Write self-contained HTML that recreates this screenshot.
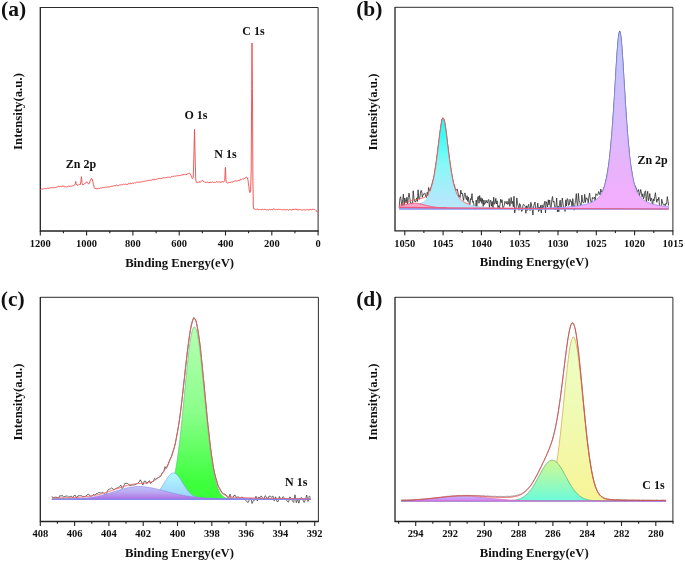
<!DOCTYPE html><html><head><meta charset="utf-8"><title>XPS spectra</title><style>html,body{margin:0;padding:0;background:#fff}svg{display:block}</style></head><body><svg width="685" height="562" viewBox="0 0 685 562" font-family="'Liberation Serif','Times New Roman',serif" font-weight="bold" fill="#111"><defs><linearGradient id="gb1" gradientUnits="userSpaceOnUse" x1="0" y1="119" x2="0" y2="209"><stop offset="0" stop-color="#1cfff4"/><stop offset="0.1" stop-color="#28fff5"/><stop offset="0.5" stop-color="#87f8f6"/><stop offset="0.9" stop-color="#b4e8fc"/><stop offset="1" stop-color="#b8e6fc"/></linearGradient><linearGradient id="gb2" gradientUnits="userSpaceOnUse" x1="0" y1="31" x2="0" y2="209"><stop offset="0" stop-color="#b6c2fb"/><stop offset="0.1" stop-color="#c1c6fc"/><stop offset="0.5" stop-color="#d8bcfc"/><stop offset="0.9" stop-color="#f0affc"/><stop offset="1" stop-color="#f2aefc"/></linearGradient><linearGradient id="gc1" gradientUnits="userSpaceOnUse" x1="0" y1="327" x2="0" y2="499"><stop offset="0" stop-color="#b6ffb2"/><stop offset="0.5" stop-color="#8afe8a"/><stop offset="0.9" stop-color="#3eff3e"/><stop offset="1" stop-color="#38ff38"/></linearGradient><linearGradient id="gc2" gradientUnits="userSpaceOnUse" x1="0" y1="473" x2="0" y2="499"><stop offset="0" stop-color="#b0fbfc"/><stop offset="1" stop-color="#9ccffc"/></linearGradient><linearGradient id="gc3" gradientUnits="userSpaceOnUse" x1="0" y1="486.6" x2="0" y2="499"><stop offset="0" stop-color="#bec5fa"/><stop offset="0.5" stop-color="#b9a4f0"/><stop offset="1" stop-color="#b072e2"/></linearGradient><linearGradient id="gd1" gradientUnits="userSpaceOnUse" x1="0" y1="337" x2="0" y2="501"><stop offset="0" stop-color="#eaffc6"/><stop offset="0.5" stop-color="#f0fab2"/><stop offset="1" stop-color="#f8f496"/><stop offset="1" stop-color="#f8f494"/></linearGradient><linearGradient id="gd2" gradientUnits="userSpaceOnUse" x1="0" y1="460" x2="0" y2="501"><stop offset="0" stop-color="#d0f892"/><stop offset="0.5" stop-color="#a0fab4"/><stop offset="1" stop-color="#6afada"/></linearGradient><linearGradient id="gd3" gradientUnits="userSpaceOnUse" x1="0" y1="496.3" x2="0" y2="501"><stop offset="0" stop-color="#beb9fc"/><stop offset="1" stop-color="#d87cf5"/></linearGradient></defs><rect width="685" height="562" fill="#fff"/><path d="M40.3,7.5H318.1V231" fill="none" stroke="#2c2c2c" stroke-width="1"/>
<path d="M40.3,7.1V231H318.5" fill="none" stroke="#222" stroke-width="1.3"/>
<path d="M40.3,231v4.4M86.6,231v4.4M132.9,231v4.4M179.2,231v4.4M225.5,231v4.4M271.8,231v4.4M318.1,231v4.4M63.4,231v2.2M109.8,231v2.2M156.1,231v2.2M202.4,231v2.2M248.6,231v2.2M294.9,231v2.2" fill="none" stroke="#222" stroke-width="1.1"/>
<text x="40.3" y="246.8" font-size="10.5" text-anchor="middle" >1200</text>
<text x="86.6" y="246.8" font-size="10.5" text-anchor="middle" >1000</text>
<text x="132.9" y="246.8" font-size="10.5" text-anchor="middle" >800</text>
<text x="179.2" y="246.8" font-size="10.5" text-anchor="middle" >600</text>
<text x="225.5" y="246.8" font-size="10.5" text-anchor="middle" >400</text>
<text x="271.8" y="246.8" font-size="10.5" text-anchor="middle" >200</text>
<text x="318.1" y="246.8" font-size="10.5" text-anchor="middle" >0</text>
<text x="13.6" y="15.5" font-size="21.5" text-anchor="middle" >(a)</text>
<text transform="translate(22,111.5) rotate(-90)" font-size="12.8" text-anchor="middle">Intensity(a.u.)</text>
<text x="179.6" y="266.7" font-size="12.7" text-anchor="middle" >Binding Energy(eV)</text>
<text x="81" y="167.6" font-size="12" text-anchor="middle" >Zn 2p</text>
<text x="196" y="118.7" font-size="12" text-anchor="middle" >O 1s</text>
<text x="225.5" y="157.5" font-size="12" text-anchor="middle" >N 1s</text>
<text x="253.4" y="35.3" font-size="12" text-anchor="middle" >C 1s</text>
<path d="M40.3,189.7L41,189L41.7,189L42.4,189.1L43.1,188.6L43.8,188.8L44.5,188.7L45.2,188.1L45.9,188.8L46.6,188.6L47.3,188.2L48,188.2L48.7,188.3L49.4,188L50,187.9L50.1,187.6L50.8,188L51.5,187.8L52.2,187.8L52.9,187.2L53.6,188L54.3,187.4L55,187.2L55.7,187.8L56.4,187.1L57.1,186.6L57.8,186.8L58.5,186.2L59.2,187L59.9,186.5L60.6,186.3L61.3,186.7L62,185.9L62.3,186.4L62.7,185.8L63.4,186.3L64.1,186.2L64.5,187L64.8,187.1L65.5,186.7L66.2,187.1L66.7,186.9L66.9,187.1L67.6,186.6L68.3,186.1L69,185.9L69.7,186.4L70,186.8L70.4,186.2L71.1,185.8L71.8,186.4L72.5,185.8L73.2,185.6L73.9,185.5L74.2,185.4L74.6,185L75.1,184.2L75.3,183.7L75.7,181.4L76,183.3L76.4,184.9L76.7,184.5L77.4,185L78.1,185.5L78.5,184.9L78.8,184.7L79.5,184.5L80.2,184.3L80.4,184.5L80.9,181.3L81,181.4L81.4,176.7L81.6,178.6L82,182.4L82.3,183.7L82.7,184.9L83,184.9L83.7,184.5L84.4,183.8L84.5,183.3L85.1,183.5L85.8,182.9L86.2,182.4L86.5,181.9L87.1,181.8L87.2,181.9L87.9,182.9L88.3,183.9L88.6,183.8L89.3,183.4L89.4,183.4L90,181.5L90.4,180L90.7,179.5L91.4,178.4L91.5,178.4L92.1,179.8L92.4,179.7L92.8,181.4L93.3,183.9L93.5,184.5L94.2,187.6L94.2,187.6L94.9,188L95.1,188.7L95.6,188.4L96.3,188.9L97,188.5L97,189L97.7,188.3L98.4,188.3L99.1,188.4L99.8,188.5L100,188.4L100.5,187.8L101.2,188.1L101.9,187.9L102.6,187.7L103.3,187.5L104,188L104.7,187.3L105.4,187.1L106.1,187.4L106.8,187.1L107.5,187L108.2,187.1L108.9,186.9L109.6,186.8L110,186.9L110.3,186.6L111,186.3L111.7,186.3L112.4,186.1L113.1,186.2L113.8,185.8L114.5,185.5L115.2,185.9L115.9,185.4L116.6,185.1L117.3,185.7L118,185.3L118.7,185.5L119.4,185.1L120,184.9L120.1,184.8L120.8,184.9L121.5,184.9L122.2,184.6L122.9,184.7L123.6,184.2L124.3,184.5L125,183.9L125.7,184.2L126.4,184.4L127.1,184.4L127.8,184.4L128.5,183.4L129.2,183.9L129.9,184L130,183.9L130.6,183.2L131.3,183.5L132,183.8L132.7,182.7L133.4,183.2L134.1,183.3L134.8,182.6L135.5,182.9L136.2,182.3L136.9,182.3L137.6,182.2L138.3,182.3L139,182.1L139.7,182.3L140,181.7L140.4,181.9L141.1,182.1L141.8,181.9L142.5,181.2L143.2,181.6L143.9,181.2L144.6,181.3L145.3,181.2L146,181.3L146.7,180.9L147.4,180.2L148.1,180.2L148.8,180.7L149.5,180.3L150,180.6L150.2,180.3L150.9,179.9L151.6,180.3L152.3,179.7L153,179.2L153.7,180.2L154.4,179L155.1,179.6L155.8,179.6L156.5,179.2L157.2,178.6L157.9,179.2L158.6,178.4L159.3,178.3L160,178.5L160,178.8L160.7,178.6L161.4,178.6L162.1,178.1L162.8,178.1L163.5,177.7L164.2,177.8L164.9,178L165.6,177.6L166.3,177.7L167,177.3L167.7,177.2L168.4,177.3L169.1,177.1L169.8,177.2L170,177L170.5,177.4L171.2,176.7L171.9,176.6L172.6,176.3L173.3,176.4L174,176.5L174.7,176L175.4,176.1L176.1,176.2L176.8,175.8L177.5,175.6L178.2,175.9L178.9,175.5L179.6,175.5L180,175.6L180.3,175.6L181,175L181.7,174.9L182.4,175L183.1,174.7L183.4,174.2L183.8,175L184.5,174.6L185.2,174.7L185.9,174.1L186.5,174.8L186.6,174.2L187.3,174L188,173.4L188.5,173.6L188.7,173.4L189.4,173.1L189.6,173.1L190.1,173.8L190.6,174.8L190.8,174.9L191.5,176.7L191.5,177L192.2,178.3L192.4,178.7L192.9,177.8L193.2,177.5L193.6,165.8L193.8,160L194.3,138.1L194.5,129.4L195,151.3L195.2,160L195.7,177.1L195.8,180.5L196.4,182.3L196.4,182.3L197.1,182.1L197.8,182.5L198,182.6L198.5,182.1L199.2,182.1L199.9,181.5L200,182.4L200.6,181.7L201.3,181.1L201.5,181.1L202,180.9L202.6,180.4L202.7,180.3L203.4,181.6L203.6,181.5L204.1,181.5L204.8,182.3L205.5,182.3L206,182.3L206.2,182.7L206.9,182.1L207.6,182.2L208.3,182.6L209,182.9L209.7,182.4L210,182.9L210.4,182.2L211.1,182.4L211.8,182.3L212.5,181.9L213.2,182.3L213.9,182.5L214.6,182.2L215,182.2L215.3,182.6L216,181.8L216.7,181.7L217.4,181.9L218.1,181.7L218.8,182.3L219.5,182L220,181.7L220.2,181.7L220.9,182.7L221.6,181.6L222.3,181.6L223,181.8L223.7,181.9L224,181.8L224.4,181L224.7,180.5L225.1,173L225.4,167.3L225.8,175.4L226.1,181.5L226.5,182.3L226.9,182.9L227.2,182.9L227.9,183L228.6,182.6L229,182.4L229.3,182.8L230,182.1L230.7,182.5L231.4,181.8L232,182L232.1,181.9L232.8,182.3L233.5,181.3L234.2,181.1L234.9,181.1L235.6,180.8L236,180.8L236.3,181L237,181L237.7,181L238.4,180.2L239.1,181L239.8,180.6L240,179.9L240.5,179.2L241.2,179.7L241.9,179.5L242.6,178.7L243,179.2L243.3,179L244,178.5L244.7,178.6L244.8,178.7L245.4,177.8L246,177.5L246.1,177.2L246.8,177L246.8,177.2L247.5,178.5L247.6,178.3L248.2,181.3L248.4,183.2L248.9,186.6L249.2,189.5L249.6,191.8L249.9,192.6L250.3,191.7L250.6,191L251,177L251.2,170L251.6,100L251.7,85.7L252,43L252.4,88.6L252.5,100L252.9,180L253.1,193L253.3,206L253.8,209L253.8,209L254.5,209.1L255.2,209.4L255.5,209.6L255.9,209.2L256.6,209.3L257.3,209L258,209.7L258.7,209.5L259.4,209.6L260,209.9L260.1,209.8L260.8,209.5L261.5,209.7L262.2,209.1L262.9,209.7L263.6,209.6L264.3,209.1L265,209.9L265.7,209.4L266.4,209.8L267.1,209.5L267.8,209.9L268.5,210L269.2,209.4L269.9,209.2L270,209.6L270.6,209.8L271.3,209.5L272,209.4L272.7,209.7L273.4,208.8L274.1,209.4L274.8,209.2L275.5,209.7L276.2,209.4L276.9,209.3L277.6,209.5L278.3,209.2L279,209.6L279.7,209.4L280,209.5L280.4,209.4L281.1,209.9L281.8,209.6L282.5,209.8L283.2,209.8L283.9,209.4L284.6,209.8L285.3,209.8L286,209.7L286.7,209.6L287.4,209.6L288.1,209.9L288.8,210.3L289.5,209.5L290,209.8L290.2,209.6L290.9,209.9L291.6,209.8L292.3,210L293,208.9L293.7,209.5L294.4,209.4L295,209.7L295.1,209.4L295.8,209L296.2,209.1L296.5,209.7L297.2,208.9L297.3,209.7L297.9,209.9L298.6,209.8L299.3,209.7L300,209.5L300.7,209.6L301.4,210.1L302.1,210.2L302.8,209.9L303.5,209.6L304.2,209.9L304.9,209.8L305,210.1L305.6,209.9L306.3,209.7L307,209.9L307.7,209.5L308.4,210L309,210.1L309.1,209.5L309.8,209.8L310.5,209.3L311.2,209.7L311.9,209.6L312.5,209.1L312.6,209.5L313.3,209.3L314,209.4L314.7,209.5L315.2,209.8L315.4,209.9L316.1,210.6L316.6,210.8L316.8,211.4L317.5,212.1L318,212.2" fill="none" stroke="#f24545" stroke-width="0.9" stroke-linejoin="round"/>
<path d="M395,7.3H672.9V230.8" fill="none" stroke="#2c2c2c" stroke-width="1"/>
<path d="M395,6.9V230.8H673.3" fill="none" stroke="#222" stroke-width="1.3"/>
<path d="M404.8,230.8v4.4M443.1,230.8v4.4M481.4,230.8v4.4M519.7,230.8v4.4M558,230.8v4.4M596.3,230.8v4.4M634.6,230.8v4.4M672.9,230.8v4.4M423.9,230.8v2.2M462.2,230.8v2.2M500.5,230.8v2.2M538.9,230.8v2.2M577.1,230.8v2.2M615.4,230.8v2.2M653.8,230.8v2.2" fill="none" stroke="#222" stroke-width="1.1"/>
<text x="404.8" y="246.8" font-size="10.5" text-anchor="middle" >1050</text>
<text x="443.1" y="246.8" font-size="10.5" text-anchor="middle" >1045</text>
<text x="481.4" y="246.8" font-size="10.5" text-anchor="middle" >1040</text>
<text x="519.7" y="246.8" font-size="10.5" text-anchor="middle" >1035</text>
<text x="558" y="246.8" font-size="10.5" text-anchor="middle" >1030</text>
<text x="596.3" y="246.8" font-size="10.5" text-anchor="middle" >1025</text>
<text x="634.6" y="246.8" font-size="10.5" text-anchor="middle" >1020</text>
<text x="672.9" y="246.8" font-size="10.5" text-anchor="middle" >1015</text>
<text x="369.3" y="15.7" font-size="21.5" text-anchor="middle" >(b)</text>
<text transform="translate(377.2,112) rotate(-90)" font-size="12.8" text-anchor="middle">Intensity(a.u.)</text>
<text x="534.2" y="266.4" font-size="12.7" text-anchor="middle" >Binding Energy(eV)</text>
<text x="652.6" y="164.4" font-size="12" text-anchor="middle" >Zn 2p</text>
<path d="M399.2,207.7L399.9,198.6L400.6,196.7L401.3,201.8L402,206.2L402.7,199.6L403.4,194.2L404.1,207.9L404.8,198L405.5,201L406.2,203L406.9,197.2L407.6,204.3L408.3,197.5L409,193.1L409.7,197.5L410.4,201.6L411.1,205L411.8,202.8L412.5,204.9L413.2,190.8L413.9,198.1L414.6,201.1L415.3,202L416,200.9L416.7,197.9L417.4,201.5L418.1,189.8L418.8,199.1L419.5,199.1L420.2,194.8L420.9,190.4L421.6,190.8L422.3,197.3L423,194.4L423.7,194.6L424.4,192.9L425.1,193.6L425.8,197.1L426.5,197.5L427.2,192.3L427.9,195.5L428.6,187.5L429.3,190L430,191L430.7,187.9L431.4,186.4L432.1,183.9L432.8,180.9L433.5,178.8L434.2,175.5L434.9,170.6L435.6,166.4L436.3,161.5L437,156.2L437.7,151L438.4,144.8L439.1,139.7L439.8,133.6L440.5,128.6L441.2,124.2L441.9,120L442.6,118L443.3,118.7L444,119.7L444.7,122.1L445.4,125.9L446.1,131.8L446.8,137.3L447.5,143.7L448.2,148.1L448.9,154.5L449.6,159.7L450.3,164.8L451,169.3L451.7,173.6L452.4,177.8L453.1,180.8L453.8,184.1L454.5,184.9L455.2,189.1L455.9,190.6L456.6,189.5L457.3,189L458,192.9L458.7,196.4L459.4,195.5L460.1,197.5L460.8,190.1L461.5,194L462.2,193.1L462.9,196.9L463.6,200.4L464.3,194.4L465,192.9L465.7,197.2L466.4,199.7L467.1,195.7L467.8,201.5L468.5,197.3L469.2,203.3L469.9,204.5L470.6,198.6L471.3,199.7L472,193.6L472.7,202.4L473.4,201.3L474.1,206.1L474.8,209.2L475.5,208.9L476.2,200L476.9,206.7L477.6,197.4L478.3,196.3L479,203.3L479.7,195.5L480.4,201.4L481.1,197.8L481.8,203.4L482.5,198.6L483.2,206.4L483.9,200L484.6,204.5L485.3,203.2L486,200.2L486.7,202.1L487.4,203.1L488.1,199.9L488.8,199.6L489.5,208.7L490.2,200.7L490.9,200.3L491.6,206.2L492.3,201.5L493,208.6L493.7,197.2L494.4,204.2L495.1,203.5L495.8,198.3L496.5,203.9L497.2,200.8L497.9,207.7L498.6,205.7L499.3,209.2L500,204.3L500.7,199.2L501.4,202.6L502.1,199.8L502.8,207.8L503.5,207.3L504.2,205.6L504.9,201.3L505.6,202.2L506.3,203.8L507,201.2L507.7,204.5L508.4,204L509.1,198.5L509.8,206.4L510.5,203.3L511.2,197.4L511.9,203.7L512.6,201.3L513.3,206.8L514,196.2L514.7,212.9L515.4,209.2L516.1,209L516.8,197.9L517.5,203.3L518.2,206L518.9,210.3L519.6,203.5L520.3,204.7L521,208.1L521.7,211.5L522.4,210L523.1,204.6L523.8,204.3L524.5,205.4L525.2,206.4L525.9,213.3L526.6,205.8L527.3,210.4L528,206L528.7,204.3L529.4,209.1L530.1,210.6L530.8,202.3L531.5,205L532.2,209.2L532.9,215L533.6,206.8L534.3,204L535,202L535.7,209.5L536.4,209.3L537.1,208.5L537.8,203.1L538.5,211.5L539.2,207L539.9,210.4L540.6,205.4L541.3,212.9L542,204.8L542.7,208.4L543.4,207.2L544.1,204L544.8,201.3L545.5,213L546.2,201.7L546.9,203.5L547.6,206.9L548.3,199.8L549,204.7L549.7,200L550.4,207.7L551.1,208.7L551.8,199.9L552.5,196.5L553.2,202.2L553.9,201L554.6,206.5L555.3,209.9L556,205.3L556.7,198L557.4,211.8L558.1,206.1L558.8,211.8L559.5,203.4L560.2,200.1L560.9,208.7L561.6,205.2L562.3,198L563,203.7L563.7,208.3L564.4,208.6L565.1,211.4L565.8,199.8L566.5,206L567.2,198.5L567.9,199.2L568.6,205.4L569.3,204.8L570,199.3L570.7,201.8L571.4,201.3L572.1,209L572.8,198.6L573.5,205.7L574.2,210.2L574.9,204.4L575.6,200.2L576.3,193.6L577,203.2L577.7,206.9L578.4,193.4L579.1,200.7L579.8,202.3L580.5,205.4L581.2,205L581.9,195.1L582.6,201.9L583.3,202.8L584,202.5L584.7,194.3L585.4,202.5L586.1,197.6L586.8,198.9L587.5,198.8L588.2,202.8L588.9,196.8L589.6,193.1L590.3,199L591,202L591.7,203L592.4,197.4L593.1,198.7L593.8,197.8L594.5,197L595.2,201.6L595.9,193.7L596.6,195L597.3,195.5L598,194.1L598.7,191.5L599.4,193.3L600.1,195L600.8,189.1L601.5,192L602.2,191.4L602.9,191.3L603.6,187.4L604.3,186.7L605,184.2L605.7,181.1L606.4,178.1L607.1,174.1L607.8,170.3L608.5,165.9L609.2,160.5L609.9,154.5L610.6,147.2L611.3,139.8L612,131.5L612.7,121.7L613.4,111.9L614.1,101.3L614.8,90.4L615.5,77.9L616.2,66.3L616.9,55.3L617.6,45.7L618.3,38.2L619,32.9L619.7,31L620.4,32.9L621.1,37.9L621.8,45.8L622.5,55.2L623.2,66.3L623.9,78.4L624.6,89.4L625.3,100.8L626,111.6L626.7,122.1L627.4,131.4L628.1,140.3L628.8,147.1L629.5,155.2L630.2,160.6L630.9,165.9L631.6,170.1L632.3,174.6L633,178.6L633.7,181.9L634.4,184.3L635.1,185.8L635.8,187.3L636.5,189.1L637.2,191.3L637.9,191.5L638.6,189.5L639.3,195.7L640,193.4L640.7,189.5L641.4,193.1L642.1,196.8L642.8,193.7L643.5,198.8L644.2,196.7L644.9,191.8L645.6,190.8L646.3,203.8L647,195.6L647.7,191.3L648.4,200.7L649.1,197.9L649.8,193.5L650.5,201.2L651.2,197.9L651.9,200L652.6,207.3L653.3,198.8L654,201L654.7,196.8L655.4,192.7L656.1,198.1L656.8,202.3L657.5,199.2L658.2,200.3L658.9,197.2L659.6,207.1L660.3,206.1L661,209.7L661.7,199.2L662.4,201.8L663.1,204.4L663.8,204.8L664.5,204.3L665.2,205.8L665.9,203.4L666.6,204.2L667.3,196.6L668,201L668.6,205.7" fill="none" stroke="#2a2a2a" stroke-width="0.8" stroke-linejoin="miter" stroke-miterlimit="10"/>
<path d="M399.2,207.4L399.9,207.4L400.6,207.3L401.3,207.3L402,207.2L402.7,207.2L403.4,207.1L404.1,207L404.8,207L405.5,206.9L406.2,206.8L406.9,206.8L407.6,206.7L408.3,206.6L409,206.5L409.7,206.4L410.4,206.3L411.1,206.2L411.8,206.1L412.5,205.9L413.2,205.8L413.9,205.7L414.6,205.5L415.3,205.3L416,205.2L416.7,205L417.4,204.8L418.1,204.6L418.8,204.3L419.5,204L420.2,203.8L420.9,203.4L421.6,203.1L422.3,202.7L423,202.3L423.7,201.8L424.4,201.3L425.1,200.6L425.8,199.9L426.5,199.1L427.2,198.2L427.9,197.1L428.6,195.9L429.3,194.4L430,192.8L430.7,190.8L431.4,188.7L432.1,186.1L432.8,183.3L433.5,180.1L434.2,176.5L434.9,172.4L435.6,168L436.3,163.2L437,157.9L437.7,152.4L438.4,146.6L439.1,140.7L439.8,134.9L440.5,129.5L441.2,124.9L441.9,121.4L442.6,119.3L443.3,119L444,120.3L444.7,123.2L445.4,127.4L446.1,132.5L446.8,138.2L447.5,144L448.2,149.9L448.9,155.6L449.6,161L450.3,166L451,170.6L451.7,174.8L452.4,178.6L453.1,182L453.8,185L454.5,187.6L455.2,189.9L455.9,192L456.6,193.7L457.3,195.3L458,196.6L458.7,197.7L459.4,198.7L460.1,199.6L460.8,200.4L461.5,201L462.2,201.6L462.9,202.1L463.6,202.5L464.3,202.9L465,203.3L465.7,203.6L466.4,203.9L467.1,204.2L467.8,204.4L468.5,204.7L469.2,204.9L469.9,205.1L470.6,205.3L471.3,205.4L472,205.6L472.7,205.7L473.4,205.9L474.1,206L474.8,206.1L475.5,206.2L476.2,206.3L476.9,206.5L477.6,206.5L478.3,206.6L479,206.7L479.7,206.8L480.4,206.9L481.1,206.9L481.8,207L482.5,207.1L483.2,207.1L483.9,207.2L484.6,207.3L485.3,207.3L486,207.4L486.7,207.4L487.4,207.5L488.1,207.5L488.8,207.5L489.5,207.6L490.2,207.6L490.9,207.7L491.6,207.7L492.3,207.7L493,207.8L493.7,207.8L494.4,207.8L495.1,207.8L495.8,207.9L496.5,207.9L497.2,207.9L497.9,207.9L498.6,208L499.3,208L500,208L500.7,208L501.4,208.1L502.1,208.1L502.8,208.1L503.5,208.1L504.2,208.1L504.9,208.1L505.6,208.2L506.3,208.2L507,208.2L507.7,208.2L508.4,208.2L509.1,208.2L509.8,208.3L510.5,208.3L511.2,208.3L511.9,208.3L512.6,208.3L513.3,208.3L514,208.3L514.7,208.3L515.4,208.3L516.1,208.4L516.8,208.4L517.5,208.4L518.2,208.4L518.9,208.4L519.6,208.4L520.3,208.4L521,208.4L521.7,208.4L522.4,208.4L523.1,208.4L523.8,208.5L524.5,208.5L525.2,208.5L525.9,208.5L526.6,208.5L527.3,208.5L528,208.5L528.7,208.5L529.4,208.5L530.1,208.5L530.8,208.5L531.5,208.5L532.2,208.5L532.9,208.5L533.6,208.5L534.3,208.6L535,208.6L535.7,208.6L536.4,208.6L537.1,208.6L537.8,208.6L538.5,208.6L539.2,208.6L539.9,208.6L540.6,208.6L541.3,208.6L542,208.6L542.7,208.6L543.4,208.6L544.1,208.6L544.8,208.6L545.5,208.6L546.2,208.6L546.9,208.6L547.6,208.6L548.3,208.6L549,208.6L549.7,208.6L550.4,208.6L551.1,208.7L551.8,208.7L552.5,208.7L553.2,208.7L553.9,208.7L554.6,208.7L555.3,208.7L556,208.7L556.7,208.7L557.4,208.7L558.1,208.7L558.8,208.7L559.5,208.7L560.2,208.7L560.9,208.7L561.6,208.7L562.3,208.7L563,208.7L563.7,208.7L564.4,208.7L565.1,208.7L565.8,208.7L566.5,208.7L567.2,208.7L567.9,208.7L568.6,208.7L569.3,208.7L570,208.7L570.7,208.7L571.4,208.7L572.1,208.7L572.8,208.7L573.5,208.7L574.2,208.7L574.9,208.7L575.6,208.7L576.3,208.7L577,208.7L577.7,208.7L578.4,208.7L579.1,208.7L579.8,208.7L580.5,208.7L581.2,208.7L581.9,208.7L582.6,208.8L583.3,208.8L584,208.8L584.7,208.8L585.4,208.8L586.1,208.8L586.8,208.8L587.5,208.8L588.2,208.8L588.9,208.8L589.6,208.8L590.3,208.8L591,208.8L591.7,208.8L592.4,208.8L593.1,208.8L593.8,208.8L594.5,208.8L595.2,208.8L595.9,208.8L596.6,208.8L597.3,208.8L598,208.8L598.7,208.8L599.4,208.8L600.1,208.8L600.8,208.8L601.5,208.8L602.2,208.8L602.9,208.8L603.6,208.8L604.3,208.8L605,208.8L605.7,208.8L606.4,208.8L607.1,208.8L607.8,208.8L608.5,208.8L609.2,208.8L609.9,208.8L610.6,208.8L611.3,208.8L612,208.8L612.7,208.8L613.4,208.8L614.1,208.8L614.8,208.8L615.5,208.8L616.2,208.8L616.9,208.8L617.6,208.8L618.3,208.8L619,208.8L619.7,208.8L620.4,208.8L621.1,208.8L621.8,208.8L622.5,208.8L623.2,208.8L623.9,208.8L624.6,208.8L625.3,208.8L626,208.8L626.7,208.8L627.4,208.8L628.1,208.8L628.8,208.8L629.5,208.8L630.2,208.8L630.9,208.8L631.6,208.8L632.3,208.8L633,208.8L633.7,208.8L634.4,208.8L635.1,208.8L635.8,208.8L636.5,208.8L637.2,208.8L637.9,208.8L638.6,208.8L639.3,208.8L640,208.8L640.7,208.8L641.4,208.8L642.1,208.8L642.8,208.8L643.5,208.8L644.2,208.8L644.9,208.8L645.6,208.8L646.3,208.8L647,208.8L647.7,208.8L648.4,208.8L649.1,208.8L649.8,208.8L650.5,208.8L651.2,208.8L651.9,208.8L652.6,208.8L653.3,208.8L654,208.8L654.7,208.8L655.4,208.8L656.1,208.8L656.8,208.8L657.5,208.8L658.2,208.8L658.9,208.8L659.6,208.8L660.3,208.8L661,208.8L661.7,208.8L662.4,208.8L663.1,208.8L663.8,208.8L664.5,208.8L665.2,208.8L665.9,208.8L666.6,208.8L667.3,208.8L668,208.8L668.6,208.8L668.6,208.9L399.2,208.9Z" fill="url(#gb1)" stroke="#8fc4ee" stroke-width="0.5"/>
<path d="M399.2,208.8L399.9,208.8L400.6,208.8L401.3,208.8L402,208.8L402.7,208.8L403.4,208.8L404.1,208.8L404.8,208.8L405.5,208.8L406.2,208.8L406.9,208.8L407.6,208.8L408.3,208.8L409,208.8L409.7,208.8L410.4,208.8L411.1,208.8L411.8,208.8L412.5,208.8L413.2,208.8L413.9,208.8L414.6,208.8L415.3,208.8L416,208.8L416.7,208.8L417.4,208.8L418.1,208.8L418.8,208.8L419.5,208.8L420.2,208.8L420.9,208.8L421.6,208.8L422.3,208.8L423,208.8L423.7,208.8L424.4,208.8L425.1,208.8L425.8,208.8L426.5,208.8L427.2,208.8L427.9,208.7L428.6,208.7L429.3,208.7L430,208.7L430.7,208.7L431.4,208.7L432.1,208.7L432.8,208.7L433.5,208.7L434.2,208.7L434.9,208.7L435.6,208.7L436.3,208.7L437,208.7L437.7,208.7L438.4,208.7L439.1,208.7L439.8,208.7L440.5,208.7L441.2,208.7L441.9,208.7L442.6,208.7L443.3,208.7L444,208.7L444.7,208.7L445.4,208.7L446.1,208.7L446.8,208.7L447.5,208.7L448.2,208.7L448.9,208.7L449.6,208.7L450.3,208.7L451,208.7L451.7,208.7L452.4,208.7L453.1,208.7L453.8,208.7L454.5,208.7L455.2,208.7L455.9,208.7L456.6,208.7L457.3,208.7L458,208.7L458.7,208.7L459.4,208.7L460.1,208.7L460.8,208.7L461.5,208.7L462.2,208.7L462.9,208.7L463.6,208.7L464.3,208.7L465,208.7L465.7,208.7L466.4,208.7L467.1,208.7L467.8,208.7L468.5,208.7L469.2,208.7L469.9,208.7L470.6,208.7L471.3,208.6L472,208.6L472.7,208.6L473.4,208.6L474.1,208.6L474.8,208.6L475.5,208.6L476.2,208.6L476.9,208.6L477.6,208.6L478.3,208.6L479,208.6L479.7,208.6L480.4,208.6L481.1,208.6L481.8,208.6L482.5,208.6L483.2,208.6L483.9,208.6L484.6,208.6L485.3,208.6L486,208.6L486.7,208.6L487.4,208.6L488.1,208.6L488.8,208.6L489.5,208.6L490.2,208.6L490.9,208.6L491.6,208.6L492.3,208.6L493,208.6L493.7,208.6L494.4,208.5L495.1,208.5L495.8,208.5L496.5,208.5L497.2,208.5L497.9,208.5L498.6,208.5L499.3,208.5L500,208.5L500.7,208.5L501.4,208.5L502.1,208.5L502.8,208.5L503.5,208.5L504.2,208.5L504.9,208.5L505.6,208.5L506.3,208.5L507,208.5L507.7,208.5L508.4,208.5L509.1,208.4L509.8,208.4L510.5,208.4L511.2,208.4L511.9,208.4L512.6,208.4L513.3,208.4L514,208.4L514.7,208.4L515.4,208.4L516.1,208.4L516.8,208.4L517.5,208.4L518.2,208.4L518.9,208.4L519.6,208.3L520.3,208.3L521,208.3L521.7,208.3L522.4,208.3L523.1,208.3L523.8,208.3L524.5,208.3L525.2,208.3L525.9,208.3L526.6,208.3L527.3,208.3L528,208.2L528.7,208.2L529.4,208.2L530.1,208.2L530.8,208.2L531.5,208.2L532.2,208.2L532.9,208.2L533.6,208.2L534.3,208.1L535,208.1L535.7,208.1L536.4,208.1L537.1,208.1L537.8,208.1L538.5,208.1L539.2,208L539.9,208L540.6,208L541.3,208L542,208L542.7,208L543.4,208L544.1,207.9L544.8,207.9L545.5,207.9L546.2,207.9L546.9,207.9L547.6,207.8L548.3,207.8L549,207.8L549.7,207.8L550.4,207.8L551.1,207.7L551.8,207.7L552.5,207.7L553.2,207.7L553.9,207.6L554.6,207.6L555.3,207.6L556,207.5L556.7,207.5L557.4,207.5L558.1,207.5L558.8,207.4L559.5,207.4L560.2,207.3L560.9,207.3L561.6,207.3L562.3,207.2L563,207.2L563.7,207.2L564.4,207.1L565.1,207.1L565.8,207L566.5,207L567.2,206.9L567.9,206.9L568.6,206.8L569.3,206.7L570,206.7L570.7,206.6L571.4,206.6L572.1,206.5L572.8,206.4L573.5,206.3L574.2,206.3L574.9,206.2L575.6,206.1L576.3,206L577,205.9L577.7,205.8L578.4,205.7L579.1,205.6L579.8,205.5L580.5,205.4L581.2,205.3L581.9,205.1L582.6,205L583.3,204.8L584,204.7L584.7,204.5L585.4,204.3L586.1,204.2L586.8,204L587.5,203.8L588.2,203.5L588.9,203.3L589.6,203L590.3,202.8L591,202.5L591.7,202.2L592.4,201.8L593.1,201.5L593.8,201.1L594.5,200.7L595.2,200.2L595.9,199.8L596.6,199.2L597.3,198.6L598,198L598.7,197.3L599.4,196.5L600.1,195.6L600.8,194.5L601.5,193.4L602.2,192.1L602.9,190.6L603.6,188.8L604.3,186.8L605,184.5L605.7,181.8L606.4,178.7L607.1,175.1L607.8,171L608.5,166.3L609.2,160.9L609.9,154.8L610.6,148L611.3,140.3L612,131.9L612.7,122.6L613.4,112.5L614.1,101.7L614.8,90.3L615.5,78.6L616.2,66.9L616.9,55.9L617.6,46.1L618.3,38.3L619,33.3L619.7,31.6L620.4,33.3L621.1,38.3L621.8,46.1L622.5,55.9L623.2,66.9L623.9,78.6L624.6,90.3L625.3,101.7L626,112.5L626.7,122.6L627.4,131.9L628.1,140.3L628.8,148L629.5,154.8L630.2,160.9L630.9,166.3L631.6,171L632.3,175.1L633,178.7L633.7,181.8L634.4,184.5L635.1,186.8L635.8,188.8L636.5,190.6L637.2,192.1L637.9,193.4L638.6,194.5L639.3,195.6L640,196.5L640.7,197.3L641.4,198L642.1,198.6L642.8,199.2L643.5,199.8L644.2,200.2L644.9,200.7L645.6,201.1L646.3,201.5L647,201.8L647.7,202.2L648.4,202.5L649.1,202.8L649.8,203L650.5,203.3L651.2,203.5L651.9,203.8L652.6,204L653.3,204.2L654,204.3L654.7,204.5L655.4,204.7L656.1,204.8L656.8,205L657.5,205.1L658.2,205.3L658.9,205.4L659.6,205.5L660.3,205.6L661,205.7L661.7,205.8L662.4,205.9L663.1,206L663.8,206.1L664.5,206.2L665.2,206.3L665.9,206.3L666.6,206.4L667.3,206.5L668,206.6L668.6,206.6L668.6,208.9L399.2,208.9Z" fill="url(#gb2)" stroke="#7f86f0" stroke-width="0.7"/>
<path d="M399.2,206.2L399.9,206.1L400.6,205.9L401.3,205.7L402,205.6L402.7,205.4L403.4,205.2L404.1,205L404.8,204.8L405.5,204.7L406.2,204.5L406.9,204.3L407.6,204.1L408.3,204L409,203.8L409.7,203.7L410.4,203.6L411.1,203.4L411.8,203.4L412.5,203.3L413.2,203.2L413.9,203.2L414.6,203.2L415.3,203.2L416,203.2L416.7,203.3L417.4,203.4L418.1,203.5L418.8,203.6L419.5,203.7L420.2,203.9L420.9,204L421.6,204.2L422.3,204.3L423,204.5L423.7,204.7L424.4,204.9L425.1,205.1L425.8,205.3L426.5,205.4L427.2,205.6L427.9,205.8L428.6,206L429.3,206.1L430,206.3L430.7,206.4L431.4,206.6L432.1,206.7L432.8,206.8L433.5,206.9L434.2,207L434.9,207.1L435.6,207.2L436.3,207.3L437,207.4L437.7,207.5L438.4,207.5L439.1,207.6L439.8,207.6L440.5,207.7L441.2,207.7L441.9,207.8L442.6,207.8L443.3,207.8L444,207.8L444.7,207.9L445.4,207.9L446.1,207.9L446.8,207.9L446.8,207.2L399.2,207.2Z" fill="#f8a6c6" stroke="none"/>
<path d="M399.2,206.2L399.9,206.1L400.6,205.9L401.3,205.7L402,205.6L402.7,205.4L403.4,205.2L404.1,205L404.8,204.8L405.5,204.7L406.2,204.5L406.9,204.3L407.6,204.1L408.3,204L409,203.8L409.7,203.7L410.4,203.6L411.1,203.4L411.8,203.4L412.5,203.3L413.2,203.2L413.9,203.2L414.6,203.2L415.3,203.2L416,203.2L416.7,203.3L417.4,203.4L418.1,203.5L418.8,203.6L419.5,203.7L420.2,203.9L420.9,204L421.6,204.2L422.3,204.3L423,204.5L423.7,204.7L424.4,204.9L425.1,205.1L425.8,205.3L426.5,205.4L427.2,205.6L427.9,205.8L428.6,206L429.3,206.1L430,206.3L430.7,206.4L431.4,206.6L432.1,206.7L432.8,206.8L433.5,206.9L434.2,207L434.9,207.1L435.6,207.2L436.3,207.3L437,207.4L437.7,207.5L438.4,207.5L439.1,207.6L439.8,207.6L440.5,207.7L441.2,207.7L441.9,207.8L442.6,207.8L443.3,207.8L444,207.8L444.7,207.9L445.4,207.9L446.1,207.9L446.8,207.9" fill="none" stroke="#ef5070" stroke-width="0.9"/>
<path d="M399.2,209.1H668.6" stroke="#8f9cf5" stroke-width="1" fill="none"/>
<path d="M399.2,207.3 L440,207.9 L530,208.5 L668.6,209" stroke="#f2557a" stroke-width="1.2" fill="none"/>
<path d="M399.2,204.8L399.9,204.6L400.6,204.3L401.3,204.1L402,203.9L402.7,203.7L403.4,203.4L404.1,203.2L404.8,202.9L405.5,202.7L406.2,202.4L406.9,202.2L407.6,201.9L408.3,201.6L409,201.4L409.7,201.2L410.4,200.9L411.1,200.7L411.8,200.5L412.5,200.3L413.2,200.1L413.9,200L414.6,199.8L415.3,199.7L416,199.5L416.7,199.4L417.4,199.3L418.1,199.1L418.8,199L419.5,198.9L420.2,198.7L420.9,198.6L421.6,198.4L422.3,198.2L423,197.9L423.7,197.6L424.4,197.3L425.1,196.8L425.8,196.3L426.5,195.7L427.2,194.9L427.9,194L428.6,192.9L429.3,191.6L430,190.1L430.7,188.4L431.4,186.3L432.1,183.9L432.8,181.2L433.5,178.1L434.2,174.6L434.9,170.7L435.6,166.3L436.3,161.6L437,156.4L437.7,150.9L438.4,145.2L439.1,139.3L439.8,133.6L440.5,128.3L441.2,123.7L441.9,120.2L442.6,118.2L443.3,117.9L444,119.3L444.7,122.2L445.4,126.4L446.1,131.5L446.8,137.2L447.5,143.1L448.2,149L448.9,154.7L449.6,160.1L450.3,165.1L451,169.7L451.7,173.9L452.4,177.7L453.1,181.1L453.8,184.1L454.5,186.8L455.2,189.1L455.9,191.2L456.6,192.9L457.3,194.5L458,195.8L458.7,196.9L459.4,197.9L460.1,198.8L460.8,199.6L461.5,200.2L462.2,200.8L462.9,201.3L463.6,201.8L464.3,202.2L465,202.5L465.7,202.9L466.4,203.2L467.1,203.5L467.8,203.7L468.5,203.9L469.2,204.2L469.9,204.4" fill="none" stroke="#f05a5a" stroke-width="0.9"/>
<path d="M40.3,297.3H318.4V521.5" fill="none" stroke="#2c2c2c" stroke-width="1"/>
<path d="M40.3,296.9V521.5H318.8" fill="none" stroke="#222" stroke-width="1.3"/>
<path d="M40.3,521.5v4.4M74.6,521.5v4.4M108.9,521.5v4.4M143.2,521.5v4.4M177.5,521.5v4.4M211.8,521.5v4.4M246.1,521.5v4.4M280.4,521.5v4.4M314.7,521.5v4.4M57.4,521.5v2.2M91.8,521.5v2.2M126,521.5v2.2M160.3,521.5v2.2M194.6,521.5v2.2M228.9,521.5v2.2M263.2,521.5v2.2M297.6,521.5v2.2" fill="none" stroke="#222" stroke-width="1.1"/>
<text x="40.3" y="536.8" font-size="10.5" text-anchor="middle" >408</text>
<text x="74.6" y="536.8" font-size="10.5" text-anchor="middle" >406</text>
<text x="108.9" y="536.8" font-size="10.5" text-anchor="middle" >404</text>
<text x="143.2" y="536.8" font-size="10.5" text-anchor="middle" >402</text>
<text x="177.5" y="536.8" font-size="10.5" text-anchor="middle" >400</text>
<text x="211.8" y="536.8" font-size="10.5" text-anchor="middle" >398</text>
<text x="246.1" y="536.8" font-size="10.5" text-anchor="middle" >396</text>
<text x="280.4" y="536.8" font-size="10.5" text-anchor="middle" >394</text>
<text x="314.7" y="536.8" font-size="10.5" text-anchor="middle" >392</text>
<text x="12.8" y="305.5" font-size="21.5" text-anchor="middle" >(c)</text>
<text transform="translate(22,402) rotate(-90)" font-size="12.8" text-anchor="middle">Intensity(a.u.)</text>
<text x="179.5" y="556.8" font-size="12.7" text-anchor="middle" >Binding Energy(eV)</text>
<text x="296.2" y="485.8" font-size="12" text-anchor="middle" >N 1s</text>
<path d="M51.9,496.3L53.2,497.9L54.5,497.3L55.8,497.1L57.1,497.5L58.4,498.2L59.7,495.7L61,496.1L62.3,495.3L63.6,497.2L64.9,496.4L66.2,496.1L67.5,495.9L68.8,497.3L70.1,496.5L71.4,496.1L72.7,497.7L74,495.5L75.3,495.3L76.6,498.2L77.9,495.9L79.2,495.7L80.5,495.4L81.8,495.9L83.1,496.7L84.4,496.5L85.7,496.2L87,495.2L88.3,494L89.6,495.5L90.9,496.3L92.2,495.8L93.5,494.4L94.8,495.1L96.1,493.7L97.4,493.8L98.7,492.4L100,492.9L101.3,493.1L102.6,492.2L103.9,493.5L105.2,494.5L106.5,493.4L107.8,490.3L109.1,489.2L110.4,488.9L111.7,487.9L113,489.2L114.3,489.4L115.6,488.5L116.9,488.1L118.2,487.6L119.5,486.6L120.8,485.1L122.1,488.6L123.4,487.3L124.7,483.6L126,483.3L127.3,483.4L128.6,484.2L129.9,485.9L131.2,485.2L132.5,485.1L133.8,484.9L135.1,484.7L136.4,484L137.7,483.4L139,482.3L140.3,479.8L141.6,482.1L142.9,485L144.2,481.3L145.5,481L146.8,483.7L148.1,481.9L149.4,480.7L150.7,483.6L152,481.8L153.3,481.4L154.6,478.4L155.9,479.4L157.2,478.1L158.5,477.6L159.8,477L161.1,475.6L162.4,472.5L163.7,471.7L165,466.7L166.3,468.3L167.6,466L168.9,462L170.2,459L171.5,456.2L172.8,451.9L174.1,448.3L175.4,442.9L176.7,435.8L178,429L179.3,421L180.6,411.4L181.9,400.8L183.2,388.8L184.5,376.8L185.8,364.9L187.1,353.9L188.4,343.9L189.7,334.4L191,327L192.3,321.7L193.6,317.6L194.9,318.5L196.2,321.4L197.5,328.1L198.8,336.4L200.1,345.4L201.4,357.6L202.7,370.9L204,383.9L205.3,397.6L206.6,411L207.9,424.8L209.2,435.7L210.5,447.7L211.8,456.7L213.1,465.4L214.4,472.7L215.7,477.3L217,481.9L218.3,486.3L219.6,488.3L220.9,490.6L222.2,492.6L223.5,494L224.8,494.1L226.1,495.1L227.4,497.1L228.7,498.4L230,494.2L231.3,498.8L232.6,498.4L233.9,495.5L235.2,495.2L236.5,498L237.8,496.7L239.1,497.6L240.4,498.8L241.7,496.9L243,497.8L244.3,498.9L245.6,500L246.9,501.7L248.2,502.5L249.5,499.4L250.8,498.2L252.1,503.5L253.4,500.6L254.7,500.1L256,496.2L257.3,501L258.6,497.1L259.9,497.9L261.2,495.9L262.5,497.8L263.8,499.3L265.1,495.7L266.4,496.9L267.7,499L269,496.2L270.3,496.2L271.6,497.1L272.9,496L274.2,500.9L275.5,496.8L276.8,501.3L278.1,501.7L279.4,496.4L280.7,499.5L282,498.1L283.3,496.6L284.6,498.5L285.9,498.8L287.2,501.3L288.5,502.1L289.8,496.8L291.1,498.4L292.4,500.9L293.7,502.4L295,494.8L296.3,502.7L297.6,499.1L298.9,503.2L300.2,498.5L301.5,497.5L302.8,499.8L304.1,502.5L305.4,499.7L306.7,495L308,501.5L309.3,496L310.7,497.2" fill="none" stroke="#3a3a3a" stroke-width="0.75" stroke-linejoin="miter"/>
<path d="M51.9,499.2L52.5,499.2L53.1,499.2L53.7,499.2L54.3,499.2L54.9,499.2L55.5,499.2L56.1,499.2L56.7,499.2L57.3,499.2L57.9,499.2L58.5,499.2L59.1,499.2L59.7,499.2L60.3,499.2L60.9,499.2L61.5,499.2L62.1,499.2L62.7,499.2L63.3,499.2L63.9,499.2L64.5,499.2L65.1,499.2L65.7,499.2L66.3,499.2L66.9,499.2L67.5,499.2L68.1,499.2L68.7,499.2L69.3,499.2L69.9,499.2L70.5,499.2L71.1,499.2L71.7,499.2L72.3,499.2L72.9,499.2L73.5,499.2L74.1,499.2L74.7,499.2L75.3,499.2L75.9,499.2L76.5,499.2L77.1,499.2L77.7,499.2L78.3,499.2L78.9,499.2L79.5,499.2L80.1,499.2L80.7,499.2L81.3,499.2L81.9,499.2L82.5,499.2L83.1,499.2L83.7,499.2L84.3,499.2L84.9,499.2L85.5,499.2L86.1,499.2L86.7,499.2L87.3,499.2L87.9,499.2L88.5,499.2L89.1,499.2L89.7,499.2L90.3,499.2L90.9,499.2L91.5,499.2L92.1,499.2L92.7,499.2L93.3,499.2L93.9,499.2L94.5,499.2L95.1,499.2L95.7,499.2L96.3,499.2L96.9,499.2L97.5,499.2L98.1,499.2L98.7,499.2L99.3,499.2L99.9,499.2L100.5,499.2L101.1,499.2L101.7,499.2L102.3,499.2L102.9,499.2L103.5,499.2L104.1,499.2L104.7,499.2L105.3,499.2L105.9,499.2L106.5,499.2L107.1,499.2L107.7,499.2L108.3,499.2L108.9,499.2L109.5,499.2L110.1,499.2L110.7,499.2L111.3,499.2L111.9,499.2L112.5,499.2L113.1,499.2L113.7,499.2L114.3,499.2L114.9,499.2L115.5,499.2L116.1,499.2L116.7,499.2L117.3,499.2L117.9,499.2L118.5,499.2L119.1,499.2L119.7,499.2L120.3,499.2L120.9,499.2L121.5,499.2L122.1,499.2L122.7,499.2L123.3,499.2L123.9,499.2L124.5,499.2L125.1,499.2L125.7,499.2L126.3,499.2L126.9,499.2L127.5,499.2L128.1,499.2L128.7,499.2L129.3,499.2L129.9,499.2L130.5,499.2L131.1,499.2L131.7,499.2L132.3,499.2L132.9,499.2L133.5,499.2L134.1,499.2L134.7,499.2L135.3,499.2L135.9,499.2L136.5,499.2L137.1,499.2L137.7,499.2L138.3,499.2L138.9,499.2L139.5,499.2L140.1,499.2L140.7,499.2L141.3,499.2L141.9,499.2L142.5,499.2L143.1,499.2L143.7,499.2L144.3,499.2L144.9,499.2L145.5,499.2L146.1,499.2L146.7,499.2L147.3,499.2L147.9,499.2L148.5,499.2L149.1,499.2L149.7,499.2L150.3,499.2L150.9,499.2L151.5,499.2L152.1,499.2L152.7,499.2L153.3,499.2L153.9,499.2L154.5,499.1L155.1,499.1L155.7,499.1L156.3,499.1L156.9,499L157.5,499L158.1,499L158.7,498.9L159.3,498.8L159.9,498.8L160.5,498.6L161.1,498.5L161.7,498.4L162.3,498.2L162.9,498L163.5,497.7L164.1,497.5L164.7,497.1L165.3,496.7L165.9,496.2L166.5,495.7L167.1,495L167.7,494.3L168.3,493.5L168.9,492.5L169.5,491.4L170.1,490.2L170.7,488.8L171.3,487.2L171.9,485.5L172.5,483.5L173.1,481.4L173.7,479L174.3,476.3L174.9,473.4L175.5,470.3L176.1,466.9L176.7,463.2L177.3,459.2L177.9,455L178.5,450.5L179.1,445.7L179.7,440.7L180.3,435.4L180.9,429.9L181.5,424.2L182.1,418.3L182.7,412.2L183.3,406.1L183.9,399.9L184.5,393.6L185.1,387.3L185.7,381.1L186.3,375L186.9,369.1L187.5,363.3L188.1,357.8L188.7,352.6L189.3,347.8L189.9,343.4L190.5,339.4L191.1,335.9L191.7,333L192.3,330.6L192.9,328.7L193.5,327.5L194.1,326.9L194.7,326.9L195.3,327.5L195.9,328.7L196.5,330.6L197.1,333L197.7,335.9L198.3,339.4L198.9,343.4L199.5,347.8L200.1,352.6L200.7,357.8L201.3,363.3L201.9,369.1L202.5,375L203.1,381.1L203.7,387.3L204.3,393.6L204.9,399.9L205.5,406.1L206.1,412.2L206.7,418.3L207.3,424.2L207.9,429.9L208.5,435.4L209.1,440.7L209.7,445.7L210.3,450.5L210.9,455L211.5,459.2L212.1,463.2L212.7,466.9L213.3,470.3L213.9,473.4L214.5,476.3L215.1,479L215.7,481.4L216.3,483.5L216.9,485.5L217.5,487.2L218.1,488.8L218.7,490.2L219.3,491.4L219.9,492.5L220.5,493.5L221.1,494.3L221.7,495L222.3,495.7L222.9,496.2L223.5,496.7L224.1,497.1L224.7,497.5L225.3,497.7L225.9,498L226.5,498.2L227.1,498.4L227.7,498.5L228.3,498.6L228.9,498.8L229.5,498.8L230.1,498.9L230.7,499L231.3,499L231.9,499L232.5,499.1L233.1,499.1L233.7,499.1L234.3,499.1L234.9,499.2L235.5,499.2L236.1,499.2L236.7,499.2L237.3,499.2L237.9,499.2L238.5,499.2L239.1,499.2L239.7,499.2L240.3,499.2L240.9,499.2L241.5,499.2L242.1,499.2L242.7,499.2L243.3,499.2L243.9,499.2L244.5,499.2L245.1,499.2L245.7,499.2L246.3,499.2L246.9,499.2L247.5,499.2L248.1,499.2L248.7,499.2L249.3,499.2L249.9,499.2L250.5,499.2L251.1,499.2L251.7,499.2L252.3,499.2L252.9,499.2L253.5,499.2L254.1,499.2L254.7,499.2L255.3,499.2L255.9,499.2L256.5,499.2L257.1,499.2L257.7,499.2L258.3,499.2L258.9,499.2L259.5,499.2L260.1,499.2L260.7,499.2L261.3,499.2L261.9,499.2L262.5,499.2L263.1,499.2L263.7,499.2L264.3,499.2L264.9,499.2L265.5,499.2L266.1,499.2L266.7,499.2L267.3,499.2L267.9,499.2L268.5,499.2L269.1,499.2L269.7,499.2L270.3,499.2L270.9,499.2L271.5,499.2L272.1,499.2L272.7,499.2L273.3,499.2L273.9,499.2L274.5,499.2L275.1,499.2L275.7,499.2L276.3,499.2L276.9,499.2L277.5,499.2L278.1,499.2L278.7,499.2L279.3,499.2L279.9,499.2L280.5,499.2L281.1,499.2L281.7,499.2L282.3,499.2L282.9,499.2L283.5,499.2L284.1,499.2L284.7,499.2L285.3,499.2L285.9,499.2L286.5,499.2L287.1,499.2L287.7,499.2L288.3,499.2L288.9,499.2L289.5,499.2L290.1,499.2L290.7,499.2L291.3,499.2L291.9,499.2L292.5,499.2L293.1,499.2L293.7,499.2L294.3,499.2L294.9,499.2L295.5,499.2L296.1,499.2L296.7,499.2L297.3,499.2L297.9,499.2L298.5,499.2L299.1,499.2L299.7,499.2L300.3,499.2L300.9,499.2L301.5,499.2L302.1,499.2L302.7,499.2L303.3,499.2L303.9,499.2L304.5,499.2L305.1,499.2L305.7,499.2L306.3,499.2L306.9,499.2L307.5,499.2L308.1,499.2L308.7,499.2L309.3,499.2L309.9,499.2L310.7,499.2L310.7,499.2L51.9,499.2Z" fill="url(#gc1)" stroke="#58b874" stroke-width="0.6"/>
<path d="M51.9,499.2L52.5,499.2L53.1,499.2L53.7,499.2L54.3,499.2L54.9,499.2L55.5,499.2L56.1,499.2L56.7,499.2L57.3,499.2L57.9,499.2L58.5,499.2L59.1,499.2L59.7,499.2L60.3,499.2L60.9,499.2L61.5,499.2L62.1,499.2L62.7,499.2L63.3,499.2L63.9,499.2L64.5,499.2L65.1,499.2L65.7,499.2L66.3,499.2L66.9,499.2L67.5,499.2L68.1,499.2L68.7,499.2L69.3,499.2L69.9,499.2L70.5,499.2L71.1,499.2L71.7,499.2L72.3,499.2L72.9,499.2L73.5,499.2L74.1,499.2L74.7,499.2L75.3,499.2L75.9,499.2L76.5,499.1L77.1,499.1L77.7,499.1L78.3,499.1L78.9,499.1L79.5,499.1L80.1,499.1L80.7,499.1L81.3,499.1L81.9,499.1L82.5,499.1L83.1,499.1L83.7,499.1L84.3,499.1L84.9,499.1L85.5,499.1L86.1,499.1L86.7,499.1L87.3,499.1L87.9,499.1L88.5,499.1L89.1,499.1L89.7,499.1L90.3,499.1L90.9,499.1L91.5,499.1L92.1,499.1L92.7,499.1L93.3,499.1L93.9,499.1L94.5,499.1L95.1,499.1L95.7,499.1L96.3,499.1L96.9,499.1L97.5,499.1L98.1,499.1L98.7,499.1L99.3,499.1L99.9,499.1L100.5,499.1L101.1,499.1L101.7,499.1L102.3,499.1L102.9,499.1L103.5,499.1L104.1,499.1L104.7,499.1L105.3,499.1L105.9,499.1L106.5,499.1L107.1,499.1L107.7,499.1L108.3,499.1L108.9,499.1L109.5,499.1L110.1,499.1L110.7,499.1L111.3,499.1L111.9,499.1L112.5,499.1L113.1,499.1L113.7,499.1L114.3,499.1L114.9,499.1L115.5,499.1L116.1,499.1L116.7,499.1L117.3,499.1L117.9,499.1L118.5,499L119.1,499L119.7,499L120.3,499L120.9,499L121.5,499L122.1,499L122.7,499L123.3,499L123.9,499L124.5,499L125.1,499L125.7,499L126.3,499L126.9,499L127.5,499L128.1,499L128.7,499L129.3,499L129.9,499L130.5,499L131.1,499L131.7,498.9L132.3,498.9L132.9,498.9L133.5,498.9L134.1,498.9L134.7,498.9L135.3,498.9L135.9,498.9L136.5,498.9L137.1,498.9L137.7,498.8L138.3,498.8L138.9,498.8L139.5,498.8L140.1,498.8L140.7,498.7L141.3,498.7L141.9,498.7L142.5,498.6L143.1,498.6L143.7,498.6L144.3,498.5L144.9,498.5L145.5,498.4L146.1,498.3L146.7,498.2L147.3,498.1L147.9,498L148.5,497.9L149.1,497.7L149.7,497.5L150.3,497.3L150.9,497.1L151.5,496.9L152.1,496.6L152.7,496.3L153.3,496L153.9,495.6L154.5,495.2L155.1,494.7L155.7,494.2L156.3,493.7L156.9,493.1L157.5,492.5L158.1,491.9L158.7,491.2L159.3,490.4L159.9,489.6L160.5,488.8L161.1,487.9L161.7,487L162.3,486.1L162.9,485.2L163.5,484.2L164.1,483.2L164.7,482.2L165.3,481.3L165.9,480.3L166.5,479.4L167.1,478.4L167.7,477.6L168.3,476.7L168.9,476L169.5,475.3L170.1,474.6L170.7,474.1L171.3,473.6L171.9,473.3L172.5,473.1L173.1,472.9L173.7,472.9L174.3,473L174.9,473.2L175.5,473.5L176.1,473.9L176.7,474.4L177.3,475L177.9,475.7L178.5,476.5L179.1,477.3L179.7,478.1L180.3,479L180.9,480L181.5,480.9L182.1,481.9L182.7,482.9L183.3,483.9L183.9,484.8L184.5,485.8L185.1,486.7L185.7,487.6L186.3,488.5L186.9,489.3L187.5,490.1L188.1,490.9L188.7,491.6L189.3,492.3L189.9,492.9L190.5,493.5L191.1,494.1L191.7,494.6L192.3,495L192.9,495.5L193.5,495.8L194.1,496.2L194.7,496.5L195.3,496.8L195.9,497L196.5,497.3L197.1,497.5L197.7,497.7L198.3,497.8L198.9,498L199.5,498.1L200.1,498.2L200.7,498.3L201.3,498.4L201.9,498.4L202.5,498.5L203.1,498.5L203.7,498.6L204.3,498.6L204.9,498.7L205.5,498.7L206.1,498.7L206.7,498.8L207.3,498.8L207.9,498.8L208.5,498.8L209.1,498.8L209.7,498.9L210.3,498.9L210.9,498.9L211.5,498.9L212.1,498.9L212.7,498.9L213.3,498.9L213.9,498.9L214.5,498.9L215.1,498.9L215.7,498.9L216.3,499L216.9,499L217.5,499L218.1,499L218.7,499L219.3,499L219.9,499L220.5,499L221.1,499L221.7,499L222.3,499L222.9,499L223.5,499L224.1,499L224.7,499L225.3,499L225.9,499L226.5,499L227.1,499L227.7,499L228.3,499L228.9,499.1L229.5,499.1L230.1,499.1L230.7,499.1L231.3,499.1L231.9,499.1L232.5,499.1L233.1,499.1L233.7,499.1L234.3,499.1L234.9,499.1L235.5,499.1L236.1,499.1L236.7,499.1L237.3,499.1L237.9,499.1L238.5,499.1L239.1,499.1L239.7,499.1L240.3,499.1L240.9,499.1L241.5,499.1L242.1,499.1L242.7,499.1L243.3,499.1L243.9,499.1L244.5,499.1L245.1,499.1L245.7,499.1L246.3,499.1L246.9,499.1L247.5,499.1L248.1,499.1L248.7,499.1L249.3,499.1L249.9,499.1L250.5,499.1L251.1,499.1L251.7,499.1L252.3,499.1L252.9,499.1L253.5,499.1L254.1,499.1L254.7,499.1L255.3,499.1L255.9,499.1L256.5,499.1L257.1,499.1L257.7,499.1L258.3,499.1L258.9,499.1L259.5,499.1L260.1,499.1L260.7,499.1L261.3,499.1L261.9,499.1L262.5,499.1L263.1,499.1L263.7,499.1L264.3,499.1L264.9,499.1L265.5,499.1L266.1,499.1L266.7,499.1L267.3,499.1L267.9,499.1L268.5,499.1L269.1,499.1L269.7,499.1L270.3,499.1L270.9,499.2L271.5,499.2L272.1,499.2L272.7,499.2L273.3,499.2L273.9,499.2L274.5,499.2L275.1,499.2L275.7,499.2L276.3,499.2L276.9,499.2L277.5,499.2L278.1,499.2L278.7,499.2L279.3,499.2L279.9,499.2L280.5,499.2L281.1,499.2L281.7,499.2L282.3,499.2L282.9,499.2L283.5,499.2L284.1,499.2L284.7,499.2L285.3,499.2L285.9,499.2L286.5,499.2L287.1,499.2L287.7,499.2L288.3,499.2L288.9,499.2L289.5,499.2L290.1,499.2L290.7,499.2L291.3,499.2L291.9,499.2L292.5,499.2L293.1,499.2L293.7,499.2L294.3,499.2L294.9,499.2L295.5,499.2L296.1,499.2L296.7,499.2L297.3,499.2L297.9,499.2L298.5,499.2L299.1,499.2L299.7,499.2L300.3,499.2L300.9,499.2L301.5,499.2L302.1,499.2L302.7,499.2L303.3,499.2L303.9,499.2L304.5,499.2L305.1,499.2L305.7,499.2L306.3,499.2L306.9,499.2L307.5,499.2L308.1,499.2L308.7,499.2L309.3,499.2L309.9,499.2L310.7,499.2L310.7,499.2L51.9,499.2Z" fill="url(#gc2)" stroke="#7b9cf0" stroke-width="0.6"/>
<path d="M51.9,499.2L52.5,499.2L53.1,499.2L53.7,499.2L54.3,499.2L54.9,499.2L55.5,499.2L56.1,499.2L56.7,499.2L57.3,499.2L57.9,499.1L58.5,499.1L59.1,499.1L59.7,499.1L60.3,499.1L60.9,499.1L61.5,499.1L62.1,499.1L62.7,499.1L63.3,499.1L63.9,499.1L64.5,499.1L65.1,499.1L65.7,499.1L66.3,499L66.9,499L67.5,499L68.1,499L68.7,499L69.3,499L69.9,499L70.5,498.9L71.1,498.9L71.7,498.9L72.3,498.9L72.9,498.9L73.5,498.8L74.1,498.8L74.7,498.8L75.3,498.8L75.9,498.7L76.5,498.7L77.1,498.7L77.7,498.6L78.3,498.6L78.9,498.6L79.5,498.5L80.1,498.5L80.7,498.5L81.3,498.4L81.9,498.4L82.5,498.3L83.1,498.3L83.7,498.2L84.3,498.1L84.9,498.1L85.5,498L86.1,498L86.7,497.9L87.3,497.8L87.9,497.8L88.5,497.7L89.1,497.6L89.7,497.5L90.3,497.4L90.9,497.4L91.5,497.3L92.1,497.2L92.7,497.1L93.3,497L93.9,496.9L94.5,496.8L95.1,496.6L95.7,496.5L96.3,496.4L96.9,496.3L97.5,496.2L98.1,496L98.7,495.9L99.3,495.8L99.9,495.6L100.5,495.5L101.1,495.4L101.7,495.2L102.3,495.1L102.9,494.9L103.5,494.8L104.1,494.6L104.7,494.4L105.3,494.3L105.9,494.1L106.5,493.9L107.1,493.8L107.7,493.6L108.3,493.4L108.9,493.2L109.5,493L110.1,492.9L110.7,492.7L111.3,492.5L111.9,492.3L112.5,492.1L113.1,491.9L113.7,491.7L114.3,491.6L114.9,491.4L115.5,491.2L116.1,491L116.7,490.8L117.3,490.6L117.9,490.4L118.5,490.3L119.1,490.1L119.7,489.9L120.3,489.7L120.9,489.5L121.5,489.4L122.1,489.2L122.7,489L123.3,488.9L123.9,488.7L124.5,488.5L125.1,488.4L125.7,488.2L126.3,488.1L126.9,488L127.5,487.8L128.1,487.7L128.7,487.6L129.3,487.5L129.9,487.3L130.5,487.2L131.1,487.1L131.7,487.1L132.3,487L132.9,486.9L133.5,486.8L134.1,486.8L134.7,486.7L135.3,486.6L135.9,486.6L136.5,486.6L137.1,486.5L137.7,486.5L138.3,486.5L138.9,486.5L139.5,486.5L140.1,486.5L140.7,486.5L141.3,486.5L141.9,486.6L142.5,486.6L143.1,486.7L143.7,486.7L144.3,486.8L144.9,486.8L145.5,486.9L146.1,486.9L146.7,487L147.3,487.1L147.9,487.2L148.5,487.3L149.1,487.4L149.7,487.5L150.3,487.6L150.9,487.7L151.5,487.8L152.1,487.9L152.7,488.1L153.3,488.2L153.9,488.3L154.5,488.4L155.1,488.6L155.7,488.7L156.3,488.9L156.9,489L157.5,489.2L158.1,489.3L158.7,489.5L159.3,489.6L159.9,489.8L160.5,489.9L161.1,490.1L161.7,490.2L162.3,490.4L162.9,490.5L163.5,490.7L164.1,490.9L164.7,491L165.3,491.2L165.9,491.3L166.5,491.5L167.1,491.7L167.7,491.8L168.3,492L168.9,492.1L169.5,492.3L170.1,492.4L170.7,492.6L171.3,492.7L171.9,492.9L172.5,493L173.1,493.2L173.7,493.3L174.3,493.5L174.9,493.6L175.5,493.8L176.1,493.9L176.7,494L177.3,494.2L177.9,494.3L178.5,494.4L179.1,494.5L179.7,494.7L180.3,494.8L180.9,494.9L181.5,495L182.1,495.1L182.7,495.3L183.3,495.4L183.9,495.5L184.5,495.6L185.1,495.7L185.7,495.8L186.3,495.9L186.9,496L187.5,496.1L188.1,496.2L188.7,496.3L189.3,496.3L189.9,496.4L190.5,496.5L191.1,496.6L191.7,496.7L192.3,496.7L192.9,496.8L193.5,496.9L194.1,497L194.7,497L195.3,497.1L195.9,497.1L196.5,497.2L197.1,497.3L197.7,497.3L198.3,497.4L198.9,497.4L199.5,497.5L200.1,497.5L200.7,497.6L201.3,497.6L201.9,497.7L202.5,497.7L203.1,497.8L203.7,497.8L204.3,497.8L204.9,497.9L205.5,497.9L206.1,497.9L206.7,498L207.3,498L207.9,498L208.5,498.1L209.1,498.1L209.7,498.1L210.3,498.2L210.9,498.2L211.5,498.2L212.1,498.2L212.7,498.3L213.3,498.3L213.9,498.3L214.5,498.3L215.1,498.3L215.7,498.4L216.3,498.4L216.9,498.4L217.5,498.4L218.1,498.4L218.7,498.4L219.3,498.5L219.9,498.5L220.5,498.5L221.1,498.5L221.7,498.5L222.3,498.5L222.9,498.5L223.5,498.5L224.1,498.6L224.7,498.6L225.3,498.6L225.9,498.6L226.5,498.6L227.1,498.6L227.7,498.6L228.3,498.6L228.9,498.6L229.5,498.6L230.1,498.7L230.7,498.7L231.3,498.7L231.9,498.7L232.5,498.7L233.1,498.7L233.7,498.7L234.3,498.7L234.9,498.7L235.5,498.7L236.1,498.7L236.7,498.7L237.3,498.7L237.9,498.7L238.5,498.7L239.1,498.8L239.7,498.8L240.3,498.8L240.9,498.8L241.5,498.8L242.1,498.8L242.7,498.8L243.3,498.8L243.9,498.8L244.5,498.8L245.1,498.8L245.7,498.8L246.3,498.8L246.9,498.8L247.5,498.8L248.1,498.8L248.7,498.8L249.3,498.8L249.9,498.8L250.5,498.8L251.1,498.8L251.7,498.8L252.3,498.8L252.9,498.9L253.5,498.9L254.1,498.9L254.7,498.9L255.3,498.9L255.9,498.9L256.5,498.9L257.1,498.9L257.7,498.9L258.3,498.9L258.9,498.9L259.5,498.9L260.1,498.9L260.7,498.9L261.3,498.9L261.9,498.9L262.5,498.9L263.1,498.9L263.7,498.9L264.3,498.9L264.9,498.9L265.5,498.9L266.1,498.9L266.7,498.9L267.3,498.9L267.9,498.9L268.5,498.9L269.1,498.9L269.7,498.9L270.3,498.9L270.9,498.9L271.5,498.9L272.1,498.9L272.7,498.9L273.3,498.9L273.9,498.9L274.5,498.9L275.1,499L275.7,499L276.3,499L276.9,499L277.5,499L278.1,499L278.7,499L279.3,499L279.9,499L280.5,499L281.1,499L281.7,499L282.3,499L282.9,499L283.5,499L284.1,499L284.7,499L285.3,499L285.9,499L286.5,499L287.1,499L287.7,499L288.3,499L288.9,499L289.5,499L290.1,499L290.7,499L291.3,499L291.9,499L292.5,499L293.1,499L293.7,499L294.3,499L294.9,499L295.5,499L296.1,499L296.7,499L297.3,499L297.9,499L298.5,499L299.1,499L299.7,499L300.3,499L300.9,499L301.5,499L302.1,499L302.7,499L303.3,499L303.9,499L304.5,499L305.1,499L305.7,499L306.3,499L306.9,499L307.5,499L308.1,499L308.7,499L309.3,499L309.9,499L310.7,499L310.7,499.2L51.9,499.2Z" fill="url(#gc3)" stroke="#8f7fe6" stroke-width="0.6"/>
<path d="M51.9,499.4H310.7" stroke="#8a86f0" stroke-width="1.1" fill="none"/>
<path d="M51.9,497.8L52.5,497.8L53.1,497.8L53.7,497.8L54.3,497.8L54.9,497.8L55.5,497.8L56.1,497.8L56.7,497.8L57.3,497.8L57.9,497.8L58.5,497.8L59.1,497.8L59.7,497.8L60.3,497.8L60.9,497.8L61.5,497.8L62.1,497.8L62.7,497.8L63.3,497.8L63.9,497.7L64.5,497.7L65.1,497.7L65.7,497.7L66.3,497.7L66.9,497.7L67.5,497.7L68.1,497.7L68.7,497.7L69.3,497.6L69.9,497.6L70.5,497.6L71.1,497.6L71.7,497.6L72.3,497.5L72.9,497.5L73.5,497.5L74.1,497.5L74.7,497.4L75.3,497.4L75.9,497.4L76.5,497.4L77.1,497.3L77.7,497.3L78.3,497.3L78.9,497.2L79.5,497.2L80.1,497.1L80.7,497.1L81.3,497.1L81.9,497L82.5,497L83.1,496.9L83.7,496.8L84.3,496.8L84.9,496.7L85.5,496.7L86.1,496.6L86.7,496.5L87.3,496.5L87.9,496.4L88.5,496.3L89.1,496.2L89.7,496.2L90.3,496.1L90.9,496L91.5,495.9L92.1,495.8L92.7,495.7L93.3,495.6L93.9,495.5L94.5,495.4L95.1,495.3L95.7,495.2L96.3,495L96.9,494.9L97.5,494.8L98.1,494.7L98.7,494.5L99.3,494.4L99.9,494.2L100.5,494.1L101.1,493.9L101.7,493.8L102.3,493.6L102.9,493.4L103.5,493.2L104.1,493.1L104.7,492.9L105.3,492.7L105.9,492.5L106.5,492.3L107.1,492.1L107.7,491.9L108.3,491.7L108.9,491.5L109.5,491.3L110.1,491.1L110.7,490.9L111.3,490.7L111.9,490.5L112.5,490.3L113.1,490.1L113.7,489.9L114.3,489.7L114.9,489.4L115.5,489.2L116.1,489L116.7,488.8L117.3,488.6L117.9,488.4L118.5,488.2L119.1,488L119.7,487.8L120.3,487.6L120.9,487.4L121.5,487.2L122.1,487L122.7,486.8L123.3,486.6L123.9,486.4L124.5,486.2L125.1,486.1L125.7,485.9L126.3,485.7L126.9,485.6L127.5,485.4L128.1,485.2L128.7,485.1L129.3,485L129.9,484.8L130.5,484.7L131.1,484.6L131.7,484.4L132.3,484.3L132.9,484.2L133.5,484.1L134.1,484L134.7,483.9L135.3,483.9L135.9,483.8L136.5,483.7L137.1,483.7L137.7,483.6L138.3,483.6L138.9,483.5L139.5,483.5L140.1,483.4L140.7,483.4L141.3,483.4L141.9,483.4L142.5,483.3L143.1,483.3L143.7,483.3L144.3,483.2L144.9,483.2L145.5,483.1L146.1,483.1L146.7,483L147.3,482.9L147.9,482.8L148.5,482.7L149.1,482.6L149.7,482.4L150.3,482.3L150.9,482.1L151.5,481.9L152.1,481.7L152.7,481.4L153.3,481.1L153.9,480.8L154.5,480.4L155.1,480L155.7,479.6L156.3,479.2L156.9,478.7L157.5,478.2L158.1,477.7L158.7,477.1L159.3,476.5L159.9,476L160.5,475.3L161.1,474.7L161.7,474L162.3,473.3L162.9,472.6L163.5,471.8L164.1,470.9L164.7,470L165.3,469.1L165.9,468.1L166.5,467.1L167.1,466L167.7,464.9L168.3,463.8L168.9,462.6L169.5,461.3L170.1,460L170.7,458.6L171.3,457.1L171.9,455.5L172.5,453.8L173.1,451.9L173.7,449.8L174.3,447.6L174.9,445.2L175.5,442.6L176.1,439.7L176.7,436.7L177.3,433.4L177.9,429.8L178.5,426.1L179.1,422.1L179.7,417.9L180.3,413.4L180.9,408.7L181.5,403.9L182.1,398.8L182.7,393.6L183.3,388.3L183.9,382.8L184.5,377.3L185.1,371.8L185.7,366.3L186.3,360.9L186.9,355.6L187.5,350.5L188.1,345.6L188.7,340.9L189.3,336.6L189.9,332.6L190.5,329.1L191.1,326L191.7,323.4L192.3,321.3L192.9,319.8L193.5,318.8L194.1,318.5L194.7,318.7L195.3,319.6L195.9,321L196.5,323.1L197.1,325.6L197.7,328.8L198.3,332.4L198.9,336.5L199.5,341.1L200.1,346.1L200.7,351.4L201.3,356.9L201.9,362.8L202.5,368.8L203.1,375L203.7,381.3L204.3,387.7L204.9,394L205.5,400.4L206.1,406.6L206.7,412.7L207.3,418.7L207.9,424.6L208.5,430.2L209.1,435.6L209.7,440.8L210.3,445.7L210.9,450.4L211.5,454.8L212.1,459L212.7,462.8L213.3,466.4L213.9,469.7L214.5,472.7L215.1,475.5L215.7,478L216.3,480.3L216.9,482.4L217.5,484.2L218.1,485.8L218.7,487.3L219.3,488.6L219.9,489.7L220.5,490.7L221.1,491.6L221.7,492.4L222.3,493.1L222.9,493.7L223.5,494.2L224.1,494.6L224.7,495L225.3,495.3L225.9,495.6L226.5,495.9L227.1,496.1L227.7,496.3L228.3,496.4L228.9,496.6L229.5,496.7L230.1,496.8L230.7,496.9L231.3,496.9L231.9,497L232.5,497L233.1,497.1L233.7,497.1L234.3,497.2L234.9,497.2L235.5,497.2L236.1,497.3L236.7,497.3L237.3,497.3L237.9,497.4L238.5,497.4L239.1,497.4L239.7,497.4L240.3,497.5L240.9,497.5L241.5,497.5L242.1,497.5L242.7,497.6L243.3,497.6L243.9,497.6L244.5,497.6L245.1,497.7L245.7,497.7L246.3,497.7L246.9,497.7L247.5,497.8L248.1,497.8L248.7,497.8L249.3,497.8L249.9,497.9L250.5,497.9L251.1,497.9L251.7,497.9L252.3,497.9L252.9,498L253.5,498L254.1,498L254.7,498L255.3,498.1L255.9,498.1L256.5,498.1L257.1,498.1L257.7,498.1L258.3,498.2L258.9,498.2L259.5,498.2L260.1,498.2L260.7,498.2L261.3,498.2L261.9,498.2L262.5,498.3L263.1,498.3L263.7,498.3L264.3,498.3L264.9,498.3L265.5,498.3L266.1,498.3L266.7,498.3L267.3,498.3L267.9,498.3L268.5,498.3L269.1,498.3L269.7,498.4L270.3,498.4L270.9,498.4L271.5,498.4L272.1,498.4L272.7,498.4L273.3,498.4L273.9,498.4L274.5,498.4L275.1,498.4L275.7,498.4L276.3,498.4L276.9,498.4L277.5,498.5L278.1,498.5L278.7,498.5L279.3,498.5L279.9,498.5L280.5,498.5L281.1,498.5L281.7,498.5L282.3,498.5L282.9,498.5L283.5,498.5L284.1,498.5L284.7,498.5L285.3,498.5L285.9,498.5L286.5,498.6L287.1,498.6L287.7,498.6L288.3,498.6L288.9,498.6L289.5,498.6L290.1,498.6L290.7,498.6L291.3,498.6L291.9,498.6L292.5,498.6L293.1,498.6L293.7,498.6L294.3,498.6L294.9,498.6L295.5,498.7L296.1,498.7L296.7,498.7L297.3,498.7L297.9,498.7L298.5,498.7L299.1,498.7L299.7,498.7L300.3,498.7L300.9,498.7L301.5,498.7L302.1,498.7L302.7,498.7L303.3,498.7L303.9,498.7L304.5,498.7L305.1,498.8L305.7,498.8L306.3,498.8L306.9,498.8L307.5,498.8L308.1,498.8L308.7,498.8L309.3,498.8L309.9,498.8L310.7,498.8" fill="none" stroke="#ee5f5f" stroke-width="0.9"/>
<path d="M395,297.3H672.9V521.5" fill="none" stroke="#2c2c2c" stroke-width="1"/>
<path d="M395,296.9V521.5H673.3" fill="none" stroke="#222" stroke-width="1.3"/>
<path d="M415.7,521.5v4.4M450,521.5v4.4M484.3,521.5v4.4M518.6,521.5v4.4M552.9,521.5v4.4M587.2,521.5v4.4M621.5,521.5v4.4M655.8,521.5v4.4M398.6,521.5v2.2M432.8,521.5v2.2M467.1,521.5v2.2M501.4,521.5v2.2M535.8,521.5v2.2M570,521.5v2.2M604.3,521.5v2.2M638.6,521.5v2.2M673,521.5v2.2" fill="none" stroke="#222" stroke-width="1.1"/>
<text x="415.7" y="536.8" font-size="10.5" text-anchor="middle" >294</text>
<text x="450" y="536.8" font-size="10.5" text-anchor="middle" >292</text>
<text x="484.3" y="536.8" font-size="10.5" text-anchor="middle" >290</text>
<text x="518.6" y="536.8" font-size="10.5" text-anchor="middle" >288</text>
<text x="552.9" y="536.8" font-size="10.5" text-anchor="middle" >286</text>
<text x="587.2" y="536.8" font-size="10.5" text-anchor="middle" >284</text>
<text x="621.5" y="536.8" font-size="10.5" text-anchor="middle" >282</text>
<text x="655.8" y="536.8" font-size="10.5" text-anchor="middle" >280</text>
<text x="369.3" y="306" font-size="21.5" text-anchor="middle" >(d)</text>
<text transform="translate(377.2,402) rotate(-90)" font-size="12.8" text-anchor="middle">Intensity(a.u.)</text>
<text x="534.2" y="556.8" font-size="12.7" text-anchor="middle" >Binding Energy(eV)</text>
<text x="653.5" y="488.6" font-size="12" text-anchor="middle" >C 1s</text>
<path d="M401.4,500.9L402,500.9L402.6,500.9L403.2,500.9L403.8,500.9L404.4,500.9L405,500.9L405.6,500.9L406.2,500.9L406.8,500.9L407.4,500.9L408,500.9L408.6,500.9L409.2,500.9L409.8,500.9L410.4,500.9L411,500.9L411.6,500.9L412.2,500.9L412.8,500.9L413.4,500.9L414,500.9L414.6,500.9L415.2,500.9L415.8,500.9L416.4,500.9L417,500.9L417.6,500.9L418.2,500.9L418.8,500.9L419.4,500.9L420,500.9L420.6,500.9L421.2,500.9L421.8,500.9L422.4,500.9L423,500.9L423.6,500.9L424.2,500.9L424.8,500.9L425.4,500.9L426,500.9L426.6,500.9L427.2,500.9L427.8,500.9L428.4,500.9L429,500.9L429.6,500.9L430.2,500.9L430.8,500.9L431.4,500.9L432,500.9L432.6,500.9L433.2,500.9L433.8,500.9L434.4,500.9L435,500.9L435.6,500.9L436.2,500.9L436.8,500.9L437.4,500.9L438,500.9L438.6,500.9L439.2,500.9L439.8,500.9L440.4,500.9L441,500.9L441.6,500.9L442.2,500.9L442.8,500.9L443.4,500.9L444,500.9L444.6,500.9L445.2,500.9L445.8,500.9L446.4,500.9L447,500.9L447.6,500.9L448.2,500.9L448.8,500.9L449.4,500.9L450,500.9L450.6,500.9L451.2,500.9L451.8,500.9L452.4,500.9L453,500.9L453.6,500.9L454.2,500.9L454.8,500.9L455.4,500.9L456,500.9L456.6,500.9L457.2,500.9L457.8,500.9L458.4,500.9L459,500.9L459.6,500.9L460.2,500.9L460.8,500.9L461.4,500.9L462,500.9L462.6,500.9L463.2,500.9L463.8,500.9L464.4,500.9L465,500.9L465.6,500.9L466.2,500.9L466.8,500.9L467.4,500.9L468,500.9L468.6,500.9L469.2,500.9L469.8,500.9L470.4,500.9L471,500.9L471.6,500.8L472.2,500.8L472.8,500.8L473.4,500.8L474,500.8L474.6,500.8L475.2,500.8L475.8,500.8L476.4,500.8L477,500.8L477.6,500.8L478.2,500.8L478.8,500.8L479.4,500.8L480,500.8L480.6,500.8L481.2,500.8L481.8,500.8L482.4,500.8L483,500.8L483.6,500.8L484.2,500.8L484.8,500.8L485.4,500.8L486,500.8L486.6,500.8L487.2,500.8L487.8,500.8L488.4,500.8L489,500.8L489.6,500.8L490.2,500.8L490.8,500.8L491.4,500.8L492,500.8L492.6,500.8L493.2,500.8L493.8,500.8L494.4,500.8L495,500.7L495.6,500.7L496.2,500.7L496.8,500.7L497.4,500.7L498,500.7L498.6,500.7L499.2,500.7L499.8,500.7L500.4,500.7L501,500.7L501.6,500.7L502.2,500.7L502.8,500.7L503.4,500.7L504,500.7L504.6,500.7L505.2,500.7L505.8,500.7L506.4,500.7L507,500.6L507.6,500.6L508.2,500.6L508.8,500.6L509.4,500.6L510,500.6L510.6,500.6L511.2,500.6L511.8,500.6L512.4,500.6L513,500.6L513.6,500.6L514.2,500.6L514.8,500.6L515.4,500.5L516,500.5L516.6,500.5L517.2,500.5L517.8,500.5L518.4,500.5L519,500.5L519.6,500.5L520.2,500.5L520.8,500.5L521.4,500.4L522,500.4L522.6,500.4L523.2,500.4L523.8,500.4L524.4,500.4L525,500.4L525.6,500.3L526.2,500.3L526.8,500.3L527.4,500.3L528,500.3L528.6,500.3L529.2,500.2L529.8,500.2L530.4,500.2L531,500.2L531.6,500.1L532.2,500.1L532.8,500.1L533.4,500L534,500L534.6,500L535.2,499.9L535.8,499.9L536.4,499.8L537,499.8L537.6,499.7L538.2,499.6L538.8,499.5L539.4,499.4L540,499.3L540.6,499.2L541.2,499L541.8,498.8L542.4,498.6L543,498.4L543.6,498.1L544.2,497.7L544.8,497.4L545.4,496.9L546,496.4L546.6,495.8L547.2,495.1L547.8,494.3L548.4,493.4L549,492.4L549.6,491.3L550.2,490L550.8,488.5L551.4,486.9L552,485L552.6,483L553.2,480.7L553.8,478.3L554.4,475.6L555,472.6L555.6,469.4L556.2,465.9L556.8,462.1L557.4,458.1L558,453.8L558.6,449.2L559.2,444.4L559.8,439.3L560.4,434.1L561,428.6L561.6,422.9L562.2,417.1L562.8,411.2L563.4,405.1L564,399.1L564.6,393L565.2,387L565.8,381.1L566.4,375.4L567,369.8L567.6,364.6L568.2,359.6L568.8,355L569.4,350.8L570,347.1L570.6,344L571.2,341.3L571.8,339.3L572.4,337.9L573,337.1L573.6,337L574.2,337.6L574.8,338.8L575.4,340.6L576,343L576.6,346L577.2,349.5L577.8,353.6L578.4,358L579,362.9L579.6,368L580.2,373.5L580.8,379.2L581.4,385L582,391L582.6,397.1L583.2,403.1L583.8,409.2L584.4,415.1L585,421L585.6,426.7L586.2,432.3L586.8,437.6L587.4,442.7L588,447.6L588.6,452.3L589.2,456.7L589.8,460.8L590.4,464.6L591,468.2L591.6,471.5L592.2,474.6L592.8,477.4L593.4,479.9L594,482.3L594.6,484.4L595.2,486.3L595.8,488L596.4,489.5L597,490.8L597.6,492L598.2,493.1L598.8,494L599.4,494.9L600,495.6L600.6,496.2L601.2,496.7L601.8,497.2L602.4,497.6L603,498L603.6,498.3L604.2,498.5L604.8,498.8L605.4,499L606,499.1L606.6,499.3L607.2,499.4L607.8,499.5L608.4,499.6L609,499.7L609.6,499.7L610.2,499.8L610.8,499.9L611.4,499.9L612,500L612.6,500L613.2,500L613.8,500.1L614.4,500.1L615,500.1L615.6,500.2L616.2,500.2L616.8,500.2L617.4,500.2L618,500.2L618.6,500.3L619.2,500.3L619.8,500.3L620.4,500.3L621,500.3L621.6,500.3L622.2,500.4L622.8,500.4L623.4,500.4L624,500.4L624.6,500.4L625.2,500.4L625.8,500.4L626.4,500.5L627,500.5L627.6,500.5L628.2,500.5L628.8,500.5L629.4,500.5L630,500.5L630.6,500.5L631.2,500.5L631.8,500.6L632.4,500.6L633,500.6L633.6,500.6L634.2,500.6L634.8,500.6L635.4,500.6L636,500.6L636.6,500.6L637.2,500.6L637.8,500.6L638.4,500.6L639,500.6L639.6,500.6L640.2,500.7L640.8,500.7L641.4,500.7L642,500.7L642.6,500.7L643.2,500.7L643.8,500.7L644.4,500.7L645,500.7L645.6,500.7L646.2,500.7L646.8,500.7L647.4,500.7L648,500.7L648.6,500.7L649.2,500.7L649.8,500.7L650.4,500.7L651,500.7L651.6,500.7L652.2,500.7L652.8,500.8L653.4,500.8L654,500.8L654.6,500.8L655.2,500.8L655.8,500.8L656.4,500.8L657,500.8L657.6,500.8L658.2,500.8L658.8,500.8L659.4,500.8L660,500.8L660.6,500.8L661.2,500.8L661.8,500.8L662.4,500.8L663,500.8L663.6,500.8L664.2,500.8L664.8,500.8L665.4,500.8L666,500.8L666,501L401.4,501Z" fill="url(#gd1)" stroke="#d8a03c" stroke-width="0.7"/>
<path d="M401.4,501L402,501L402.6,501L403.2,501L403.8,501L404.4,501L405,501L405.6,501L406.2,501L406.8,501L407.4,501L408,501L408.6,501L409.2,501L409.8,501L410.4,501L411,501L411.6,501L412.2,501L412.8,501L413.4,501L414,501L414.6,501L415.2,501L415.8,501L416.4,501L417,501L417.6,501L418.2,501L418.8,501L419.4,501L420,501L420.6,501L421.2,501L421.8,501L422.4,501L423,501L423.6,501L424.2,501L424.8,501L425.4,501L426,501L426.6,501L427.2,501L427.8,501L428.4,501L429,501L429.6,501L430.2,501L430.8,501L431.4,501L432,501L432.6,501L433.2,501L433.8,501L434.4,501L435,501L435.6,501L436.2,501L436.8,501L437.4,501L438,501L438.6,501L439.2,501L439.8,501L440.4,501L441,501L441.6,501L442.2,501L442.8,501L443.4,501L444,501L444.6,501L445.2,501L445.8,501L446.4,501L447,501L447.6,501L448.2,501L448.8,501L449.4,501L450,501L450.6,501L451.2,501L451.8,501L452.4,501L453,501L453.6,501L454.2,501L454.8,501L455.4,501L456,501L456.6,501L457.2,501L457.8,501L458.4,501L459,501L459.6,501L460.2,501L460.8,501L461.4,501L462,501L462.6,501L463.2,501L463.8,501L464.4,501L465,501L465.6,501L466.2,501L466.8,501L467.4,501L468,501L468.6,501L469.2,501L469.8,501L470.4,501L471,501L471.6,501L472.2,501L472.8,501L473.4,501L474,501L474.6,501L475.2,501L475.8,501L476.4,501L477,501L477.6,501L478.2,501L478.8,501L479.4,501L480,501L480.6,501L481.2,501L481.8,501L482.4,501L483,501L483.6,501L484.2,501L484.8,501L485.4,501L486,501L486.6,501L487.2,501L487.8,501L488.4,501L489,501L489.6,501L490.2,501L490.8,501L491.4,501L492,501L492.6,501L493.2,501L493.8,501L494.4,501L495,501L495.6,501L496.2,501L496.8,501L497.4,501L498,501L498.6,501L499.2,501L499.8,501L500.4,501L501,501L501.6,501L502.2,501L502.8,501L503.4,500.9L504,500.9L504.6,500.9L505.2,500.9L505.8,500.9L506.4,500.9L507,500.9L507.6,500.8L508.2,500.8L508.8,500.8L509.4,500.8L510,500.7L510.6,500.7L511.2,500.6L511.8,500.6L512.4,500.5L513,500.4L513.6,500.4L514.2,500.3L514.8,500.2L515.4,500.1L516,500L516.6,499.8L517.2,499.7L517.8,499.5L518.4,499.3L519,499.1L519.6,498.9L520.2,498.7L520.8,498.4L521.4,498.1L522,497.8L522.6,497.5L523.2,497.1L523.8,496.7L524.4,496.3L525,495.9L525.6,495.4L526.2,494.9L526.8,494.3L527.4,493.7L528,493.1L528.6,492.4L529.2,491.7L529.8,491L530.4,490.2L531,489.4L531.6,488.6L532.2,487.7L532.8,486.8L533.4,485.9L534,484.9L534.6,483.9L535.2,482.9L535.8,481.8L536.4,480.8L537,479.7L537.6,478.6L538.2,477.5L538.8,476.4L539.4,475.3L540,474.2L540.6,473.1L541.2,472L541.8,470.9L542.4,469.9L543,468.9L543.6,467.9L544.2,466.9L544.8,466L545.4,465.2L546,464.4L546.6,463.6L547.2,463L547.8,462.3L548.4,461.8L549,461.3L549.6,460.9L550.2,460.6L550.8,460.4L551.4,460.2L552,460.1L552.6,460.1L553.2,460.2L553.8,460.4L554.4,460.6L555,460.9L555.6,461.3L556.2,461.8L556.8,462.3L557.4,463L558,463.6L558.6,464.4L559.2,465.2L559.8,466L560.4,466.9L561,467.9L561.6,468.9L562.2,469.9L562.8,470.9L563.4,472L564,473.1L564.6,474.2L565.2,475.3L565.8,476.4L566.4,477.5L567,478.6L567.6,479.7L568.2,480.8L568.8,481.8L569.4,482.9L570,483.9L570.6,484.9L571.2,485.9L571.8,486.8L572.4,487.7L573,488.6L573.6,489.4L574.2,490.2L574.8,491L575.4,491.7L576,492.4L576.6,493.1L577.2,493.7L577.8,494.3L578.4,494.9L579,495.4L579.6,495.9L580.2,496.3L580.8,496.7L581.4,497.1L582,497.5L582.6,497.8L583.2,498.1L583.8,498.4L584.4,498.7L585,498.9L585.6,499.1L586.2,499.3L586.8,499.5L587.4,499.7L588,499.8L588.6,500L589.2,500.1L589.8,500.2L590.4,500.3L591,500.4L591.6,500.4L592.2,500.5L592.8,500.6L593.4,500.6L594,500.7L594.6,500.7L595.2,500.8L595.8,500.8L596.4,500.8L597,500.8L597.6,500.9L598.2,500.9L598.8,500.9L599.4,500.9L600,500.9L600.6,500.9L601.2,500.9L601.8,501L602.4,501L603,501L603.6,501L604.2,501L604.8,501L605.4,501L606,501L606.6,501L607.2,501L607.8,501L608.4,501L609,501L609.6,501L610.2,501L610.8,501L611.4,501L612,501L612.6,501L613.2,501L613.8,501L614.4,501L615,501L615.6,501L616.2,501L616.8,501L617.4,501L618,501L618.6,501L619.2,501L619.8,501L620.4,501L621,501L621.6,501L622.2,501L622.8,501L623.4,501L624,501L624.6,501L625.2,501L625.8,501L626.4,501L627,501L627.6,501L628.2,501L628.8,501L629.4,501L630,501L630.6,501L631.2,501L631.8,501L632.4,501L633,501L633.6,501L634.2,501L634.8,501L635.4,501L636,501L636.6,501L637.2,501L637.8,501L638.4,501L639,501L639.6,501L640.2,501L640.8,501L641.4,501L642,501L642.6,501L643.2,501L643.8,501L644.4,501L645,501L645.6,501L646.2,501L646.8,501L647.4,501L648,501L648.6,501L649.2,501L649.8,501L650.4,501L651,501L651.6,501L652.2,501L652.8,501L653.4,501L654,501L654.6,501L655.2,501L655.8,501L656.4,501L657,501L657.6,501L658.2,501L658.8,501L659.4,501L660,501L660.6,501L661.2,501L661.8,501L662.4,501L663,501L663.6,501L664.2,501L664.8,501L665.4,501L666,501L666,501L401.4,501Z" fill="url(#gd2)" stroke="#3f9a6a" stroke-width="0.6"/>
<path d="M401.4,500.7L402,500.7L402.6,500.7L403.2,500.7L403.8,500.7L404.4,500.6L405,500.6L405.6,500.6L406.2,500.6L406.8,500.6L407.4,500.5L408,500.5L408.6,500.5L409.2,500.5L409.8,500.4L410.4,500.4L411,500.4L411.6,500.4L412.2,500.3L412.8,500.3L413.4,500.3L414,500.2L414.6,500.2L415.2,500.2L415.8,500.1L416.4,500.1L417,500.1L417.6,500L418.2,500L418.8,499.9L419.4,499.9L420,499.8L420.6,499.8L421.2,499.7L421.8,499.7L422.4,499.6L423,499.6L423.6,499.5L424.2,499.5L424.8,499.4L425.4,499.4L426,499.3L426.6,499.3L427.2,499.2L427.8,499.2L428.4,499.1L429,499L429.6,499L430.2,498.9L430.8,498.9L431.4,498.8L432,498.7L432.6,498.7L433.2,498.6L433.8,498.5L434.4,498.5L435,498.4L435.6,498.3L436.2,498.3L436.8,498.2L437.4,498.1L438,498.1L438.6,498L439.2,497.9L439.8,497.9L440.4,497.8L441,497.7L441.6,497.7L442.2,497.6L442.8,497.5L443.4,497.5L444,497.4L444.6,497.3L445.2,497.3L445.8,497.2L446.4,497.2L447,497.1L447.6,497L448.2,497L448.8,496.9L449.4,496.9L450,496.8L450.6,496.8L451.2,496.7L451.8,496.7L452.4,496.6L453,496.6L453.6,496.6L454.2,496.5L454.8,496.5L455.4,496.4L456,496.4L456.6,496.4L457.2,496.4L457.8,496.3L458.4,496.3L459,496.3L459.6,496.3L460.2,496.2L460.8,496.2L461.4,496.2L462,496.2L462.6,496.2L463.2,496.2L463.8,496.2L464.4,496.2L465,496.2L465.6,496.2L466.2,496.2L466.8,496.2L467.4,496.2L468,496.3L468.6,496.3L469.2,496.3L469.8,496.3L470.4,496.4L471,496.4L471.6,496.4L472.2,496.4L472.8,496.5L473.4,496.5L474,496.6L474.6,496.6L475.2,496.6L475.8,496.7L476.4,496.7L477,496.8L477.6,496.8L478.2,496.9L478.8,496.9L479.4,497L480,497L480.6,497.1L481.2,497.2L481.8,497.2L482.4,497.3L483,497.3L483.6,497.4L484.2,497.5L484.8,497.5L485.4,497.6L486,497.7L486.6,497.7L487.2,497.8L487.8,497.9L488.4,497.9L489,498L489.6,498.1L490.2,498.1L490.8,498.2L491.4,498.3L492,498.3L492.6,498.4L493.2,498.5L493.8,498.5L494.4,498.6L495,498.7L495.6,498.7L496.2,498.8L496.8,498.9L497.4,498.9L498,499L498.6,499L499.2,499.1L499.8,499.2L500.4,499.2L501,499.3L501.6,499.3L502.2,499.4L502.8,499.4L503.4,499.5L504,499.5L504.6,499.6L505.2,499.6L505.8,499.7L506.4,499.7L507,499.8L507.6,499.8L508.2,499.9L508.8,499.9L509.4,500L510,500L510.6,500.1L511.2,500.1L511.8,500.1L512.4,500.2L513,500.2L513.6,500.2L514.2,500.3L514.8,500.3L515.4,500.3L516,500.4L516.6,500.4L517.2,500.4L517.8,500.4L518.4,500.5L519,500.5L519.6,500.5L520.2,500.5L520.8,500.6L521.4,500.6L522,500.6L522.6,500.6L523.2,500.6L523.8,500.7L524.4,500.7L525,500.7L525.6,500.7L526.2,500.7L526.8,500.7L527.4,500.8L528,500.8L528.6,500.8L529.2,500.8L529.8,500.8L530.4,500.8L531,500.8L531.6,500.8L532.2,500.8L532.8,500.9L533.4,500.9L534,500.9L534.6,500.9L535.2,500.9L535.8,500.9L536.4,500.9L537,500.9L537.6,500.9L538.2,500.9L538.8,500.9L539.4,500.9L540,500.9L540.6,500.9L541.2,500.9L541.8,500.9L542.4,501L543,501L543.6,501L544.2,501L544.8,501L545.4,501L546,501L546.6,501L547.2,501L547.8,501L548.4,501L549,501L549.6,501L550.2,501L550.8,501L551.4,501L552,501L552.6,501L553.2,501L553.8,501L554.4,501L555,501L555.6,501L556.2,501L556.8,501L557.4,501L558,501L558.6,501L559.2,501L559.8,501L560.4,501L561,501L561.6,501L562.2,501L562.8,501L563.4,501L564,501L564.6,501L565.2,501L565.8,501L566.4,501L567,501L567.6,501L568.2,501L568.8,501L569.4,501L570,501L570.6,501L571.2,501L571.8,501L572.4,501L573,501L573.6,501L574.2,501L574.8,501L575.4,501L576,501L576.6,501L577.2,501L577.8,501L578.4,501L579,501L579.6,501L580.2,501L580.8,501L581.4,501L582,501L582.6,501L583.2,501L583.8,501L584.4,501L585,501L585.6,501L586.2,501L586.8,501L587.4,501L588,501L588.6,501L589.2,501L589.8,501L590.4,501L591,501L591.6,501L592.2,501L592.8,501L593.4,501L594,501L594.6,501L595.2,501L595.8,501L596.4,501L597,501L597.6,501L598.2,501L598.8,501L599.4,501L600,501L600.6,501L601.2,501L601.8,501L602.4,501L603,501L603.6,501L604.2,501L604.8,501L605.4,501L606,501L606.6,501L607.2,501L607.8,501L608.4,501L609,501L609.6,501L610.2,501L610.8,501L611.4,501L612,501L612.6,501L613.2,501L613.8,501L614.4,501L615,501L615.6,501L616.2,501L616.8,501L617.4,501L618,501L618.6,501L619.2,501L619.8,501L620.4,501L621,501L621.6,501L622.2,501L622.8,501L623.4,501L624,501L624.6,501L625.2,501L625.8,501L626.4,501L627,501L627.6,501L628.2,501L628.8,501L629.4,501L630,501L630.6,501L631.2,501L631.8,501L632.4,501L633,501L633.6,501L634.2,501L634.8,501L635.4,501L636,501L636.6,501L637.2,501L637.8,501L638.4,501L639,501L639.6,501L640.2,501L640.8,501L641.4,501L642,501L642.6,501L643.2,501L643.8,501L644.4,501L645,501L645.6,501L646.2,501L646.8,501L647.4,501L648,501L648.6,501L649.2,501L649.8,501L650.4,501L651,501L651.6,501L652.2,501L652.8,501L653.4,501L654,501L654.6,501L655.2,501L655.8,501L656.4,501L657,501L657.6,501L658.2,501L658.8,501L659.4,501L660,501L660.6,501L661.2,501L661.8,501L662.4,501L663,501L663.6,501L664.2,501L664.8,501L665.4,501L666,501L666,501L401.4,501Z" fill="url(#gd3)" stroke="#e0509a" stroke-width="0.6"/>
<path d="M401.4,501.2H666.4" stroke="#b48cf2" stroke-width="1" fill="none"/>
<path d="M401.4,500.1L402,500L402.6,500.1L403.2,500.1L403.8,500.1L404.4,500.2L405,500.1L405.6,499.9L406.2,500.1L406.8,500.3L407.4,500.2L408,500.1L408.6,500.1L409.2,500.1L409.8,500.2L410.4,500.2L411,499.9L411.6,499.9L412.2,500.1L412.8,500.1L413.4,500L414,499.4L414.6,499.7L415.2,499.2L415.8,499.8L416.4,499.6L417,499.6L417.6,499.5L418.2,499.7L418.8,499.4L419.4,499.6L420,499.5L420.6,499.4L421.2,499.3L421.8,499.2L422.4,499L423,499.2L423.6,499.2L424.2,499L424.8,499.1L425.4,499L426,498.7L426.6,498.8L427.2,498.7L427.8,498.5L428.4,498.7L429,498.4L429.6,498.4L430.2,498.5L430.8,498.4L431.4,498.4L432,498.6L432.6,498.1L433.2,498.2L433.8,497.9L434.4,498.1L435,498.1L435.6,498L436.2,497.7L436.8,497.7L437.4,497.8L438,497.6L438.6,497.7L439.2,497.3L439.8,497.6L440.4,497.5L441,497.3L441.6,497L442.2,497.1L442.8,497.1L443.4,497L444,496.9L444.6,496.8L445.2,496.8L445.8,496.9L446.4,496.3L447,496.4L447.6,496.3L448.2,496.4L448.8,496.2L449.4,496.4L450,496.3L450.6,496.2L451.2,496.1L451.8,496.2L452.4,496.1L453,496.1L453.6,495.9L454.2,496.1L454.8,495.7L455.4,496.1L456,495.4L456.6,495.7L457.2,495.6L457.8,495.9L458.4,495.5L459,496L459.6,495.4L460.2,495.9L460.8,495.7L461.4,495.6L462,495.6L462.6,495.9L463.2,495.7L463.8,495.2L464.4,495.7L465,495.5L465.6,495.3L466.2,495.6L466.8,495.3L467.4,495.5L468,495.5L468.6,495.4L469.2,495.6L469.8,495.3L470.4,495.5L471,495.4L471.6,495.5L472.2,495.8L472.8,495.6L473.4,495.4L474,495.6L474.6,495.5L475.2,495.6L475.8,495.7L476.4,495.7L477,495.7L477.6,495.6L478.2,495.8L478.8,495.9L479.4,495.7L480,495.8L480.6,495.8L481.2,496L481.8,496L482.4,495.8L483,495.9L483.6,495.7L484.2,495.8L484.8,496L485.4,496.1L486,496.2L486.6,496L487.2,495.9L487.8,496.1L488.4,496.1L489,496.2L489.6,496.2L490.2,496.3L490.8,496.3L491.4,496.3L492,496.2L492.6,496.4L493.2,496.2L493.8,496.3L494.4,496.6L495,496.4L495.6,496.2L496.2,496.6L496.8,496.5L497.4,496.6L498,496.4L498.6,496.5L499.2,496.4L499.8,496.3L500.4,496.7L501,496.4L501.6,496.4L502.2,496.4L502.8,496.7L503.4,496.6L504,496.4L504.6,496.4L505.2,496.5L505.8,496.6L506.4,496.2L507,496.6L507.6,496.4L508.2,496.3L508.8,496.3L509.4,496.4L510,496.6L510.6,496.3L511.2,496.3L511.8,496L512.4,496.2L513,496.2L513.6,495.7L514.2,495.8L514.8,495.9L515.4,495.4L516,495.5L516.6,495.5L517.2,495L517.8,495L518.4,494.9L519,494.8L519.6,494.3L520.2,494.4L520.8,494L521.4,493.9L522,493.6L522.6,493.1L523.2,492.7L523.8,492L524.4,491.6L525,491.2L525.6,490.8L526.2,490.5L526.8,489.5L527.4,489.2L528,488.4L528.6,487.7L529.2,487.4L529.8,486.4L530.4,485.9L531,485L531.6,483.8L532.2,482.8L532.8,482.5L533.4,481.1L534,480L534.6,479.3L535.2,478.1L535.8,476.9L536.4,475.9L537,474.8L537.6,473.6L538.2,472.6L538.8,471.2L539.4,470L540,468.9L540.6,467.7L541.2,466.6L541.8,465.1L542.4,463.9L543,462.5L543.6,461.7L544.2,460L544.8,458.9L545.4,457.5L546,456.4L546.6,455.1L547.2,453.4L547.8,452.3L548.4,450.6L549,449.6L549.6,447.8L550.2,446L550.8,444.5L551.4,443L552,441.2L552.6,439.1L553.2,436.7L553.8,434.5L554.4,432.3L555,429.4L555.6,426.6L556.2,423.6L556.8,420.3L557.4,417.3L558,413.7L558.6,409.8L559.2,405.9L559.8,401.8L560.4,397.5L561,392.8L561.6,388.1L562.2,383.2L562.8,378.7L563.4,373.5L564,368.4L564.6,363.7L565.2,358.9L565.8,354.3L566.4,349.7L567,345.1L567.6,340.9L568.2,337.2L568.8,333.6L569.4,330.7L570,328.1L570.6,325.9L571.2,324.1L571.8,323.1L572.4,323.1L573,322.9L573.6,324L574.2,325.4L574.8,327.3L575.4,329.8L576,333.2L576.6,336.8L577.2,341.1L577.8,345.9L578.4,350.8L579,356.3L579.6,362.1L580.2,367.9L580.8,374.2L581.4,380.4L582,386.6L582.6,393.3L583.2,399.7L583.8,406L584.4,412L585,418.5L585.6,424.5L586.2,430.2L586.8,435.7L587.4,440.8L588,446.1L588.6,450.7L589.2,455.7L589.8,459.5L590.4,463.6L591,467L591.6,470.4L592.2,473.6L592.8,476.7L593.4,479.3L594,481.6L594.6,483.4L595.2,485.8L595.8,487.2L596.4,489.1L597,490.6L597.6,491.6L598.2,492.7L598.8,493.3L599.4,494.8L600,495.1L600.6,495.9L601.2,496.2L601.8,496.8L602.4,497L603,497.5L603.6,497.9L604.2,498.2L604.8,498.6L605.4,498.6L606,498.8L606.6,498.9L607.2,499.3L607.8,499L608.4,499.4L609,499L609.6,499.2L610.2,499.5L610.8,499.4L611.4,500L612,499.9L612.6,499.4L613.2,499.5L613.8,499.6L614.4,500L615,499.9L615.6,499.8L616.2,499.6L616.8,499.7L617.4,499.4L618,499.6L618.6,499.9L619.2,500L619.8,499.7L620.4,499.9L621,500.2L621.6,500L622.2,499.9L622.8,500.1L623.4,500.1L624,500L624.6,499.9L625.2,500L625.8,500.1L626.4,500L627,500.3L627.6,500.2L628.2,500.3L628.8,500.4L629.4,500.4L630,500.3L630.6,500.2L631.2,500.1L631.8,500.5L632.4,500.1L633,500.1L633.6,500L634.2,500.2L634.8,500.3L635.4,500.4L636,500.2L636.6,500L637.2,500.3L637.8,500.4L638.4,500.2L639,500.2L639.6,500.3L640.2,500.5L640.8,500.3L641.4,500.1L642,500.2L642.6,500.3L643.2,500L643.8,500.4L644.4,500.2L645,500.4L645.6,500.3L646.2,500.3L646.8,500.6L647.4,500.2L648,500.2L648.6,500.4L649.2,500.5L649.8,500.3L650.4,500.2L651,500.4L651.6,500.4L652.2,500.7L652.8,500.3L653.4,500.4L654,500.3L654.6,500.1L655.2,500.4L655.8,500.5L656.4,500.2L657,500.3L657.6,500.2L658.2,500.6L658.8,500.3L659.4,500.5L660,500.3L660.6,500.4L661.2,500.3L661.8,500L662.4,500.4L663,500.5L663.6,500.1L664.2,500.4L664.8,500.3L665.4,500.3L666,500.4" fill="none" stroke="#4a4a4a" stroke-width="0.55"/>
<path d="M401.4,500.3L402,500.3L402.6,500.2L403.2,500.2L403.8,500.2L404.4,500.2L405,500.2L405.6,500.2L406.2,500.1L406.8,500.1L407.4,500.1L408,500.1L408.6,500L409.2,500L409.8,500L410.4,500L411,499.9L411.6,499.9L412.2,499.9L412.8,499.8L413.4,499.8L414,499.8L414.6,499.7L415.2,499.7L415.8,499.7L416.4,499.6L417,499.6L417.6,499.5L418.2,499.5L418.8,499.5L419.4,499.4L420,499.4L420.6,499.3L421.2,499.3L421.8,499.2L422.4,499.2L423,499.1L423.6,499.1L424.2,499L424.8,499L425.4,498.9L426,498.9L426.6,498.8L427.2,498.7L427.8,498.7L428.4,498.6L429,498.6L429.6,498.5L430.2,498.4L430.8,498.4L431.4,498.3L432,498.2L432.6,498.2L433.2,498.1L433.8,498L434.4,498L435,497.9L435.6,497.8L436.2,497.8L436.8,497.7L437.4,497.6L438,497.6L438.6,497.5L439.2,497.4L439.8,497.4L440.4,497.3L441,497.2L441.6,497.2L442.2,497.1L442.8,497L443.4,497L444,496.9L444.6,496.8L445.2,496.8L445.8,496.7L446.4,496.7L447,496.6L447.6,496.5L448.2,496.5L448.8,496.4L449.4,496.4L450,496.3L450.6,496.3L451.2,496.2L451.8,496.2L452.4,496.1L453,496.1L453.6,496L454.2,496L454.8,495.9L455.4,495.9L456,495.9L456.6,495.8L457.2,495.8L457.8,495.8L458.4,495.7L459,495.7L459.6,495.7L460.2,495.7L460.8,495.7L461.4,495.6L462,495.6L462.6,495.6L463.2,495.6L463.8,495.6L464.4,495.6L465,495.6L465.6,495.6L466.2,495.6L466.8,495.6L467.4,495.6L468,495.6L468.6,495.6L469.2,495.6L469.8,495.7L470.4,495.7L471,495.7L471.6,495.7L472.2,495.7L472.8,495.8L473.4,495.8L474,495.8L474.6,495.8L475.2,495.9L475.8,495.9L476.4,495.9L477,496L477.6,496L478.2,496L478.8,496.1L479.4,496.1L480,496.2L480.6,496.2L481.2,496.2L481.8,496.3L482.4,496.3L483,496.4L483.6,496.4L484.2,496.5L484.8,496.5L485.4,496.6L486,496.6L486.6,496.6L487.2,496.7L487.8,496.7L488.4,496.8L489,496.8L489.6,496.8L490.2,496.9L490.8,496.9L491.4,497L492,497L492.6,497L493.2,497.1L493.8,497.1L494.4,497.1L495,497.2L495.6,497.2L496.2,497.2L496.8,497.3L497.4,497.3L498,497.3L498.6,497.3L499.2,497.4L499.8,497.4L500.4,497.4L501,497.4L501.6,497.4L502.2,497.4L502.8,497.4L503.4,497.4L504,497.5L504.6,497.5L505.2,497.4L505.8,497.4L506.4,497.4L507,497.4L507.6,497.4L508.2,497.4L508.8,497.3L509.4,497.3L510,497.3L510.6,497.2L511.2,497.2L511.8,497.1L512.4,497L513,496.9L513.6,496.8L514.2,496.7L514.8,496.6L515.4,496.5L516,496.4L516.6,496.2L517.2,496.1L517.8,495.9L518.4,495.7L519,495.5L519.6,495.2L520.2,494.9L520.8,494.7L521.4,494.4L522,494L522.6,493.7L523.2,493.3L523.8,492.9L524.4,492.4L525,491.9L525.6,491.4L526.2,490.9L526.8,490.3L527.4,489.7L528,489L528.6,488.3L529.2,487.6L529.8,486.8L530.4,486L531,485.2L531.6,484.3L532.2,483.4L532.8,482.4L533.4,481.5L534,480.5L534.6,479.4L535.2,478.3L535.8,477.2L536.4,476.1L537,475L537.6,473.8L538.2,472.6L538.8,471.4L539.4,470.2L540,469L540.6,467.8L541.2,466.5L541.8,465.3L542.4,464L543,462.8L543.6,461.5L544.2,460.3L544.8,459L545.4,457.7L546,456.4L546.6,455.1L547.2,453.7L547.8,452.3L548.4,450.9L549,449.5L549.6,447.9L550.2,446.3L550.8,444.6L551.4,442.9L552,441L552.6,439L553.2,436.8L553.8,434.6L554.4,432.1L555,429.5L555.6,426.7L556.2,423.7L556.8,420.5L557.4,417.2L558,413.6L558.6,409.8L559.2,405.8L559.8,401.6L560.4,397.3L561,392.8L561.6,388.1L562.2,383.4L562.8,378.5L563.4,373.6L564,368.7L564.6,363.8L565.2,358.9L565.8,354.2L566.4,349.6L567,345.2L567.6,341L568.2,337.2L568.8,333.7L569.4,330.7L570,328.1L570.6,325.9L571.2,324.3L571.8,323.3L572.4,322.9L573,323.1L573.6,323.9L574.2,325.3L574.8,327.4L575.4,330L576,333.2L576.6,336.9L577.2,341.2L577.8,345.8L578.4,350.9L579,356.4L579.6,362.1L580.2,368.1L580.8,374.2L581.4,380.5L582,386.9L582.6,393.3L583.2,399.7L583.8,406.1L584.4,412.3L585,418.4L585.6,424.4L586.2,430.1L586.8,435.7L587.4,441L588,446L588.6,450.8L589.2,455.3L589.8,459.6L590.4,463.5L591,467.2L591.6,470.6L592.2,473.7L592.8,476.6L593.4,479.2L594,481.5L594.6,483.7L595.2,485.6L595.8,487.4L596.4,488.9L597,490.3L597.6,491.5L598.2,492.6L598.8,493.5L599.4,494.4L600,495.1L600.6,495.7L601.2,496.3L601.8,496.8L602.4,497.2L603,497.5L603.6,497.9L604.2,498.1L604.8,498.3L605.4,498.5L606,498.7L606.6,498.9L607.2,499L607.8,499.1L608.4,499.2L609,499.3L609.6,499.3L610.2,499.4L610.8,499.5L611.4,499.5L612,499.6L612.6,499.6L613.2,499.6L613.8,499.7L614.4,499.7L615,499.7L615.6,499.8L616.2,499.8L616.8,499.8L617.4,499.8L618,499.8L618.6,499.9L619.2,499.9L619.8,499.9L620.4,499.9L621,499.9L621.6,499.9L622.2,500L622.8,500L623.4,500L624,500L624.6,500L625.2,500L625.8,500L626.4,500.1L627,500.1L627.6,500.1L628.2,500.1L628.8,500.1L629.4,500.1L630,500.1L630.6,500.1L631.2,500.1L631.8,500.2L632.4,500.2L633,500.2L633.6,500.2L634.2,500.2L634.8,500.2L635.4,500.2L636,500.2L636.6,500.2L637.2,500.2L637.8,500.2L638.4,500.2L639,500.2L639.6,500.2L640.2,500.3L640.8,500.3L641.4,500.3L642,500.3L642.6,500.3L643.2,500.3L643.8,500.3L644.4,500.3L645,500.3L645.6,500.3L646.2,500.3L646.8,500.3L647.4,500.3L648,500.3L648.6,500.3L649.2,500.3L649.8,500.3L650.4,500.3L651,500.3L651.6,500.3L652.2,500.3L652.8,500.4L653.4,500.4L654,500.4L654.6,500.4L655.2,500.4L655.8,500.4L656.4,500.4L657,500.4L657.6,500.4L658.2,500.4L658.8,500.4L659.4,500.4L660,500.4L660.6,500.4L661.2,500.4L661.8,500.4L662.4,500.4L663,500.4L663.6,500.4L664.2,500.4L664.8,500.4L665.4,500.4L666,500.4" fill="none" stroke="#e0504f" stroke-width="0.9"/></svg></body></html>
